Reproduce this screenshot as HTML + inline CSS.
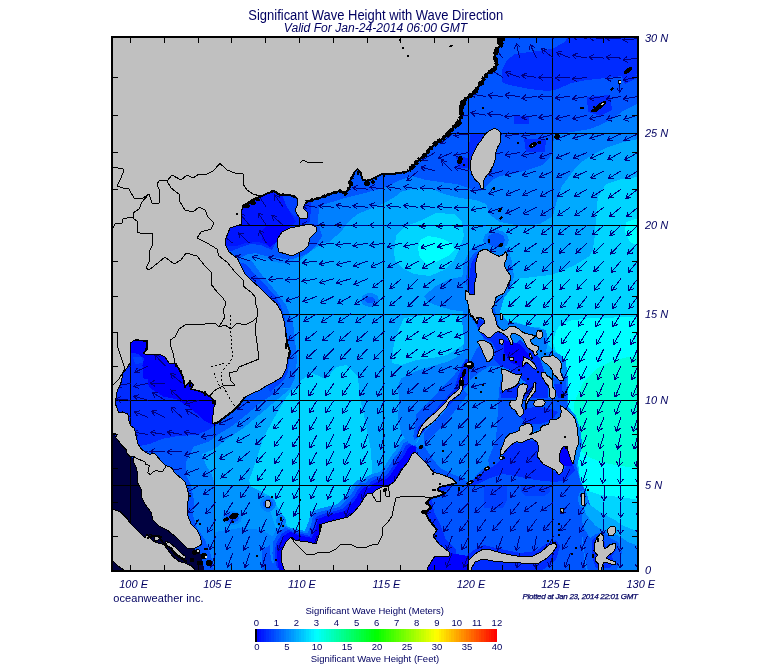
<!DOCTYPE html>
<html lang="en"><head><meta charset="utf-8"><title>Significant Wave Height with Wave Direction</title>
<style>
html,body{margin:0;padding:0;background:#fff;}
body{width:775px;height:665px;overflow:hidden;position:relative;font-family:"Liberation Sans",Arial,sans-serif;}
body>svg{position:absolute;left:0;top:0;display:block;}
text{font-family:"Liberation Sans",Arial,sans-serif;fill:#000060;}
.it{font-style:italic;}
</style></head><body>
<svg width="775" height="665" viewBox="0 0 775 665">
<rect x="0" y="0" width="775" height="665" fill="#fff"/>
<svg x="113" y="38" width="524" height="532" viewBox="113 38 524 532" overflow="hidden">
<g shape-rendering="crispEdges"><rect x="113" y="38" width="524" height="532" fill="#00aaff"/><path d="M639.0,177.0L621.0,179.0L606.0,184.0L598.0,197.0L596.0,215.0L595.0,235.0L592.8,250.0L589.7,256.0L574.0,265.5L552.5,274.8L533.0,277.0L520.0,278.5L507.0,287.0L505.0,292.0L498.0,300.0L497.0,312.0L503.0,320.0L515.0,322.0L530.0,327.0L540.0,327.0L546.0,335.0L548.0,345.0L556.0,352.0L563.0,358.0L566.0,375.0L566.0,390.0L567.0,405.0L575.0,415.0L580.0,430.0L582.0,445.0L578.0,462.0L580.0,480.0L583.0,495.0L590.0,505.0L600.0,512.0L615.0,520.0L628.0,530.0L639.0,540.0Z" fill="#00d5ff"/><path d="M394.0,252.0L396.0,236.0L404.0,227.0L422.0,220.0L436.0,213.0L454.0,214.0L462.0,222.0L464.0,236.0L460.0,248.0L454.0,260.0L444.0,270.0L430.0,276.0L414.0,274.0L402.0,268.0L395.0,260.0Z" fill="#00d5ff"/><path d="M404.0,318.0L425.0,315.0L445.0,315.0L466.0,316.0L468.0,330.0L467.0,342.0L457.0,349.0L447.0,355.0L432.0,358.0L416.0,360.0L401.0,365.0L392.0,363.0L393.0,349.0L396.0,336.0Z" fill="#00d5ff"/><path d="M300.0,381.0L312.0,373.0L326.0,379.0L336.0,367.0L346.0,365.0L358.0,377.0L360.0,399.0L364.0,415.0L368.0,436.0L371.0,450.0L372.0,470.0L371.0,491.0L361.0,501.0L345.0,512.0L332.0,514.0L320.0,520.0L309.0,527.0L301.0,535.0L294.0,535.0L288.0,527.0L281.0,512.0L270.0,496.0L258.0,490.0L250.6,486.7L249.0,480.5L256.8,458.8L263.0,438.7L273.8,418.6L284.7,400.0L291.0,391.0Z" fill="#00d5ff"/><path d="M418.0,248.0L420.0,240.0L428.0,236.0L440.0,238.0L452.0,243.0L455.0,250.0L448.0,256.0L436.0,262.0L426.0,264.0L420.0,258.0Z" fill="#00ffff"/><path d="M626.0,222.0L639.0,218.0L639.0,246.0L630.0,242.0L625.0,232.0Z" fill="#00ffff"/><path d="M571.0,320.5L590.0,318.0L639.0,317.0L639.0,500.0L620.0,497.0L600.0,495.0L585.0,490.0L580.0,478.0L578.0,462.0L582.0,445.0L580.0,430.0L575.0,415.0L567.0,405.0L566.0,390.0L566.0,375.0L563.0,358.0L556.0,352.0L553.0,342.0L556.0,331.0L561.0,324.0Z" fill="#00ffff"/><path d="M574.0,436.0L574.0,403.0L584.0,381.0L596.0,369.0L612.0,361.0L628.0,357.0L639.0,356.0L639.0,468.0L620.0,466.0L600.0,462.0L585.0,455.0L578.0,446.0Z" fill="#00ffd5"/><path d="M639.0,139.0L624.0,142.0L608.0,147.0L592.0,155.0L580.0,163.0L574.0,170.0L562.0,186.0L557.0,200.0L553.0,216.0L540.0,224.0L520.0,226.0L500.0,222.0L490.0,215.0L486.0,204.0L476.0,200.0L460.0,198.0L444.0,194.0L430.0,188.0L416.0,188.0L400.0,192.0L396.0,196.0L383.5,203.6L370.6,208.8L357.6,214.0L349.0,221.0L343.0,229.0L336.0,236.0L329.0,242.0L322.0,243.0L317.2,247.0L308.0,253.0L298.6,262.4L286.2,265.5L273.8,264.0L261.5,260.9L253.7,262.4L250.6,271.7L240.0,272.0L220.0,272.0L220.0,37.0L639.0,37.0Z" fill="#0080ff"/><path d="M639.0,103.0L623.0,111.0L612.0,119.0L600.0,125.0L590.0,129.0L578.0,131.0L564.0,133.0L554.0,134.0L553.0,149.0L550.0,157.0L542.0,165.0L528.0,170.0L512.0,174.0L500.0,176.0L492.0,180.0L484.0,189.0L480.0,191.0L468.0,188.0L456.0,184.0L440.0,182.0L426.0,180.0L412.0,176.0L400.0,180.0L383.0,188.0L365.0,193.0L345.0,198.0L319.0,206.0L318.0,222.0L322.0,236.0L317.0,245.0L308.0,253.0L298.6,257.8L287.8,259.3L277.0,257.8L266.0,256.2L255.3,253.0L246.0,254.7L238.2,259.3L220.0,259.0L220.0,37.0L639.0,37.0Z" fill="#0055ff"/><path d="M515.0,54.0L552.0,49.0L565.0,42.0L568.0,36.0L639.0,36.0L639.0,74.0L622.0,76.0L606.0,78.0L587.0,80.0L571.0,83.0L558.0,89.0L548.0,91.0L529.0,89.0L509.0,85.0L502.0,82.0L502.0,70.0L507.0,60.0Z" fill="#002bff"/><path d="M220.0,190.0L312.0,190.0L310.0,222.0L300.0,226.0L285.0,230.0L277.0,240.0L272.0,250.0L261.0,245.0L250.0,244.0L241.0,247.0L232.0,251.0L220.0,250.0Z" fill="#002bff"/><path d="M220.0,190.0L280.0,190.0L284.0,200.0L290.0,212.0L296.0,222.0L285.0,230.0L277.0,240.0L270.0,246.0L258.0,242.0L246.0,243.0L236.0,246.0L220.0,246.0Z" fill="#0015ff"/><path d="M283.0,196.0L296.0,196.0L298.0,206.0L296.0,218.0L290.0,212.0L285.0,203.0Z" fill="#0040ff"/><path d="M268.0,225.0L290.0,226.0L282.0,234.0L277.0,242.0L270.0,247.0L262.0,240.0L262.0,230.0Z" fill="#0000ff"/><path d="M587.0,97.0L610.0,95.0L612.0,110.0L600.0,116.0L588.0,112.0Z" fill="#002bff"/><path d="M620.0,71.0L635.0,66.0L637.0,78.0L625.0,84.0Z" fill="#002bff"/><path d="M514.0,116.0L529.0,116.0L529.0,124.0L514.0,124.0Z" fill="#002bff"/><path d="M524.0,139.0L546.0,139.0L545.0,152.0L526.0,152.0Z" fill="#002bff"/><path d="M470.0,134.0L484.0,134.0L480.0,144.0L474.0,156.0L471.0,170.0L468.0,168.0L469.0,150.0Z" fill="#002bff"/><path d="M456.0,156.0L468.0,158.0L468.0,168.0L458.0,168.0Z" fill="#002bff"/><path d="M299.9,330.0L298.6,345.5L297.3,368.8L289.5,389.5L274.0,402.4L258.5,415.4L243.0,428.3L227.4,438.7L214.5,449.0L201.6,454.2L206.0,465.0L212.0,475.0L215.0,485.0L216.0,500.0L216.0,520.0L218.0,540.0L222.0,570.0L111.0,570.0L111.0,330.0Z" fill="#0080ff"/><path d="M293.0,330.0L292.0,356.0L289.5,376.6L276.6,392.0L261.0,402.4L245.5,415.4L232.6,425.7L219.7,433.5L209.3,441.3L193.8,446.4L186.0,462.0L186.0,475.0L191.0,485.0L194.0,500.0L193.0,515.0L197.0,528.0L205.0,540.0L211.0,555.0L214.0,570.0L111.0,570.0L111.0,330.0Z" fill="#0055ff"/><path d="M214.5,425.7L209.3,429.6L196.4,434.8L178.3,436.0L162.7,438.7L149.8,443.8L138.0,446.4L111.0,446.0L111.0,330.0L220.0,330.0L220.0,420.0Z" fill="#002bff"/><path d="M128.0,338.0L150.0,338.0L150.0,352.0L158.0,353.0L168.0,358.0L176.0,364.0L184.0,378.0L192.0,386.0L204.0,392.0L216.0,398.0L216.0,426.0L205.0,421.0L196.0,413.0L186.0,405.0L176.0,399.0L163.4,396.5L153.3,390.3L148.7,386.4L148.0,379.4L142.5,378.0L142.5,365.5L144.0,358.5L138.0,354.0L128.0,352.0Z" fill="#0000ff"/><path d="M133.0,357.0L142.0,357.0L143.0,363.0L135.0,364.0Z" fill="#0040ff"/><path d="M111.0,432.0L116.0,436.0L120.0,444.0L128.0,452.0L134.0,460.0L138.0,475.0L142.0,490.0L148.0,505.0L155.0,518.0L165.0,528.0L180.0,540.0L192.0,548.0L200.0,552.0L205.0,572.0L111.0,572.0Z" fill="#000040"/><path d="M215.0,486.0L250.0,486.0L262.0,492.0L268.0,500.0L270.0,510.0L275.0,525.0L280.0,540.0L285.0,548.0L280.0,572.0L215.0,572.0Z" fill="#0095ff"/><path d="M215.0,532.0L240.0,528.0L262.0,530.0L272.0,536.0L280.0,544.0L283.0,556.0L283.0,572.0L215.0,572.0Z" fill="#0080ff"/><path d="M262.0,550.0L272.0,544.0L280.0,542.0L284.0,548.0L284.0,572.0L262.0,572.0Z" fill="#0055ff"/><path d="M271.9,562.9L269.9,550.9L270.9,538.9L276.9,528.9L282.9,524.9L290.9,527.9L304.9,530.9L308.9,520.9L310.9,511.9L318.9,508.9L330.9,505.9L337.9,503.9L342.9,498.9L348.9,491.9L352.9,484.9L357.9,479.9L362.9,480.9L365.9,476.9L371.9,473.9L377.9,472.9L382.9,468.9L386.9,462.9L391.9,454.9L396.9,448.9L400.9,440.9L405.9,437.9L420.0,445.0L420.0,572.0Z" fill="#0080ff"/><path d="M274.4,565.4L272.4,553.4L273.4,541.4L279.4,531.4L285.4,527.4L293.4,530.4L307.4,533.4L311.4,523.4L313.4,514.4L321.4,511.4L333.4,508.4L340.4,506.4L345.4,501.4L351.4,494.4L355.4,487.4L360.4,482.4L365.4,483.4L368.4,479.4L374.4,476.4L380.4,475.4L385.4,471.4L389.4,465.4L394.4,457.4L399.4,451.4L403.4,443.4L408.4,440.4L420.0,448.0L420.0,572.0Z" fill="#0055ff"/><path d="M276.8,567.8L274.8,555.8L275.8,543.8L281.8,533.8L287.8,529.8L295.8,532.8L309.8,535.8L313.8,525.8L315.8,516.8L323.8,513.8L335.8,510.8L342.8,508.8L347.8,503.8L353.8,496.8L357.8,489.8L362.8,484.8L367.8,485.8L370.8,481.8L376.8,478.8L382.8,477.8L387.8,473.8L391.8,467.8L396.8,459.8L401.8,453.8L405.8,445.8L410.8,442.8L420.0,450.0L420.0,572.0Z" fill="#002bff"/><path d="M278.9,569.9L276.9,557.9L277.9,545.9L283.9,535.9L289.9,531.9L297.9,534.9L311.9,537.9L315.9,527.9L317.9,518.9L325.9,515.9L337.9,512.9L344.9,510.9L349.9,505.9L355.9,498.9L359.9,491.9L364.9,486.9L369.9,487.9L372.9,483.9L378.9,480.9L384.9,479.9L389.9,475.9L393.9,469.9L398.9,461.9L403.9,455.9L407.9,447.9L412.9,444.9L420.0,452.0L420.0,572.0Z" fill="#0000ff"/><path d="M466.0,300.0L462.0,280.0L464.0,262.0L470.0,250.0L480.0,244.0L495.0,246.0L508.0,248.0L512.0,262.0L514.0,276.0L510.0,290.0L504.0,298.0L500.0,312.0L508.0,322.0L520.0,324.0L536.0,328.0L546.0,330.0L548.0,342.0L546.0,352.0L560.0,354.0L566.0,362.0L568.0,380.0L568.0,395.0L568.0,408.0L576.0,416.0L580.0,428.0L582.0,442.0L580.0,455.0L577.0,466.0L580.0,480.0L586.0,492.0L590.0,505.0L598.0,514.0L596.0,530.0L592.0,548.0L594.0,572.0L420.0,572.0L420.0,452.0L416.0,446.0L422.0,432.0L432.0,420.0L444.0,404.0L450.0,395.0L458.0,388.0L460.0,378.0L462.0,360.0L464.0,340.0L462.0,320.0Z" fill="#0080ff"/><path d="M424.0,296.0L436.0,286.0L450.0,279.0L466.0,276.0L467.0,290.0L466.0,312.0L452.0,310.0L438.0,306.0L428.0,302.0Z" fill="#0080ff"/><path d="M468.0,300.0L466.0,280.0L468.0,262.0L474.0,253.0L480.0,250.0L478.0,262.0L476.0,280.0L474.0,296.0L468.0,305.0L470.0,316.0L480.0,330.0L484.0,340.0L476.0,350.0L470.0,362.0L466.0,372.0L464.0,384.0L470.0,380.0L480.0,372.0L490.0,366.0L500.0,366.0L500.0,330.0L494.0,306.0L494.0,300.0Z" fill="#0055ff"/><path d="M470.0,300.0L469.0,282.0L471.0,264.0L476.0,255.0L479.0,256.0L477.0,270.0L476.0,284.0L473.0,296.0L470.0,306.0Z" fill="#002bff"/><path d="M424.0,432.0L434.0,422.0L444.0,412.0L452.0,402.0L458.0,394.0L463.0,390.0L468.0,394.0L462.0,402.0L454.0,412.0L446.0,422.0L438.0,430.0L430.0,438.0L424.0,444.0Z" fill="#0055ff"/><path d="M416.0,448.0L424.0,446.0L432.0,458.0L440.0,468.0L452.0,474.0L462.0,478.0L470.0,484.0L456.0,488.0L440.0,480.0L425.0,468.0L416.0,456.0Z" fill="#0055ff"/><path d="M500.0,380.0L520.0,384.0L519.0,418.0L509.0,432.0L503.0,446.0L500.0,458.0L490.0,466.0L488.0,460.0L492.0,450.0L496.0,440.0L497.0,425.0L498.0,410.0L499.0,395.0Z" fill="#0055ff"/><path d="M456.0,483.0L470.0,483.0L481.0,470.0L495.0,462.0L503.0,456.0L501.0,450.0L504.0,440.0L512.0,434.0L540.0,434.0L562.0,445.0L575.0,462.0L580.0,480.0L586.0,492.0L590.0,505.0L598.0,514.0L596.0,530.0L592.0,548.0L594.0,572.0L420.0,572.0L420.0,500.0L430.0,497.0Z" fill="#0055ff"/><path d="M484.0,486.0L507.0,486.0L507.0,500.0L503.0,508.0L484.0,508.0Z" fill="#0040ff"/><path d="M521.0,486.0L550.0,486.0L550.0,492.0L544.0,496.0L526.0,496.0L521.0,492.0Z" fill="#0040ff"/><path d="M509.0,440.0L519.0,444.0L527.0,440.0L537.0,442.0L539.0,452.0L545.0,464.0L555.0,472.0L563.0,472.0L566.0,466.0L572.0,462.0L575.0,470.0L565.0,480.0L555.0,482.0L535.0,480.0L515.0,476.0L503.0,474.0L490.0,478.0L478.0,484.0L470.0,486.0L475.0,478.0L487.0,470.0L495.0,465.0L501.0,460.0L505.0,450.0Z" fill="#002bff"/><path d="M560.0,445.0L568.0,445.0L572.0,456.0L572.0,466.0L562.0,466.0L558.0,456.0Z" fill="#0000ff"/><path d="M420.0,483.0L456.0,483.0L446.0,490.0L436.0,494.0L432.0,500.0L434.0,512.0L440.0,524.0L446.0,540.0L456.0,550.0L456.0,558.0L440.0,560.0L432.0,572.0L420.0,572.0Z" fill="#002bff"/><path d="M456.0,558.0L466.0,556.0L474.0,550.0L484.0,545.0L500.0,549.0L520.0,553.0L536.0,551.0L546.0,544.0L556.0,540.0L560.0,546.0L556.0,560.0L540.0,572.0L456.0,572.0Z" fill="#002bff"/><path d="M428.0,556.0L450.0,553.0L468.0,556.0L468.0,572.0L428.0,572.0Z" fill="#0000ff"/><path d="M476.0,318.0L486.0,322.0L492.0,336.0L498.0,332.0L506.0,336.0L512.0,346.0L520.0,340.0L530.0,350.0L540.0,358.0L544.0,370.0L548.0,385.0L548.0,398.0L540.0,400.0L530.0,396.0L528.0,384.0L520.0,378.0L510.0,370.0L500.0,366.0L494.0,360.0L496.0,350.0L492.0,342.0L484.0,338.0L478.0,330.0Z" fill="#002bff"/><path d="M500.0,392.0L520.0,384.0L536.0,380.0L545.0,384.0L548.0,400.0L556.0,404.0L560.0,412.0L548.0,422.0L530.0,422.0L518.0,418.0L508.0,410.0L502.0,400.0Z" fill="#002bff"/><path d="M504.0,340.0L520.0,344.0L530.0,356.0L524.0,368.0L510.0,362.0L504.0,352.0Z" fill="#0000ff"/><path d="M583.0,499.0L592.6,507.7L602.2,516.0L612.0,521.5L623.0,525.6L639.0,532.0L639.0,572.0L588.0,572.0L586.0,520.0Z" fill="#00aaff"/><path d="M581.5,507.7L588.4,517.3L595.3,525.6L602.2,529.8L610.0,531.0L617.5,535.3L628.5,542.2L639.0,546.0L639.0,572.0L586.0,572.0L582.0,540.0Z" fill="#0080ff"/><path d="M580.0,515.0L584.0,528.0L590.0,538.0L596.0,534.0L604.0,532.0L610.0,538.0L618.0,542.0L622.0,552.0L620.0,562.0L616.0,572.0L588.0,572.0L584.0,550.0Z" fill="#0055ff"/><path d="M592.0,540.0L598.0,536.0L604.0,540.0L606.0,548.0L612.0,546.0L616.0,550.0L612.0,556.0L614.0,562.0L610.0,568.0L596.0,568.0L592.0,556.0Z" fill="#002bff"/><path d="M401.0,378.7L416.5,371.0L432.0,366.3L447.4,361.7L456.7,357.0L463.0,352.4L468.3,350.8L470.0,380.0L462.0,392.0L450.0,404.0L440.0,414.0L430.0,424.0L420.0,436.0L414.0,446.0L408.7,443.0L401.0,432.9L397.9,417.4L399.4,402.0L397.9,386.5Z" fill="#0080ff"/><path d="M416.5,414.3L432.0,398.8L442.8,386.5L453.6,375.6L461.4,366.3L466.0,358.6L470.0,366.0L468.0,384.0L460.0,394.0L450.0,404.0L440.0,414.0L430.0,424.0L420.0,436.0L414.0,440.0L413.4,436.0L415.0,426.7Z" fill="#0055ff"/><path d="M418.0,428.0L428.0,417.0L438.0,407.0L447.0,397.0L455.0,388.0L460.0,380.0L464.0,372.0L468.0,368.0L468.0,384.0L460.0,394.0L450.0,404.0L440.0,414.0L430.0,424.0L420.0,436.0L416.0,438.0Z" fill="#002bff"/><path d="M379.0,300.0L377.8,303.5L374.5,306.1L370.0,307.0L365.5,306.1L362.2,303.5L361.0,300.0L362.2,296.5L365.5,293.9L370.0,293.0L374.5,293.9L377.8,296.5Z" fill="#0080ff"/><path d="M375.0,300.0L374.3,301.8L372.5,303.0L370.0,303.5L367.5,303.0L365.7,301.8L365.0,300.0L365.7,298.2L367.5,297.0L370.0,296.5L372.5,297.0L374.3,298.2Z" fill="#0055ff"/><path d="M276.0,504.0L274.9,508.0L272.0,510.9L268.0,512.0L264.0,510.9L261.1,508.0L260.0,504.0L261.1,500.0L264.0,497.1L268.0,496.0L272.0,497.1L274.9,500.0Z" fill="#0080ff"/><path d="M273.0,504.0L272.3,506.5L270.5,508.3L268.0,509.0L265.5,508.3L263.7,506.5L263.0,504.0L263.7,501.5L265.5,499.7L268.0,499.0L270.5,499.7L272.3,501.5Z" fill="#0055ff"/><path d="M242.0,518.0L240.7,521.5L237.0,524.1L232.0,525.0L227.0,524.1L223.3,521.5L222.0,518.0L223.3,514.5L227.0,511.9L232.0,511.0L237.0,511.9L240.7,514.5Z" fill="#0080ff"/><path d="M239.0,518.0L238.1,520.2L235.5,521.9L232.0,522.5L228.5,521.9L225.9,520.2L225.0,518.0L225.9,515.8L228.5,514.1L232.0,513.5L235.5,514.1L238.1,515.8Z" fill="#0055ff"/><path d="M286.0,521.0L285.3,524.0L283.5,526.2L281.0,527.0L278.5,526.2L276.7,524.0L276.0,521.0L276.7,518.0L278.5,515.8L281.0,515.0L283.5,515.8L285.3,518.0Z" fill="#0080ff"/><path d="M262.0,556.0L261.3,558.0L259.5,559.5L257.0,560.0L254.5,559.5L252.7,558.0L252.0,556.0L252.7,554.0L254.5,552.5L257.0,552.0L259.5,552.5L261.3,554.0Z" fill="#0080ff"/><path d="M509.0,240.0L507.3,245.0L502.5,248.7L496.0,250.0L489.5,248.7L484.7,245.0L483.0,240.0L484.7,235.0L489.5,231.3L496.0,230.0L502.5,231.3L507.3,235.0Z" fill="#0080ff"/><path d="M505.0,240.0L503.8,243.5L500.5,246.1L496.0,247.0L491.5,246.1L488.2,243.5L487.0,240.0L488.2,236.5L491.5,233.9L496.0,233.0L500.5,233.9L503.8,236.5Z" fill="#0055ff"/><path d="M588.0,499.0L587.3,503.5L585.5,506.8L583.0,508.0L580.5,506.8L578.7,503.5L578.0,499.0L578.7,494.5L580.5,491.2L583.0,490.0L585.5,491.2L587.3,494.5Z" fill="#0080ff"/><path d="M565.0,512.0L564.5,514.5L563.0,516.3L561.0,517.0L559.0,516.3L557.5,514.5L557.0,512.0L557.5,509.5L559.0,507.7L561.0,507.0L563.0,507.7L564.5,509.5Z" fill="#0055ff"/><path d="M498.0,398.0L562.0,398.0L562.0,420.0L548.0,426.0L532.0,432.0L515.0,436.0L503.0,446.0L497.0,440.0Z" fill="#0055ff"/><path d="M520.0,410.0L534.0,407.0L548.0,408.0L558.0,412.0L552.0,420.0L540.0,424.0L528.0,424.0L521.0,418.0Z" fill="#002bff"/><path d="M553.0,378.0L566.0,378.0L567.0,395.0L567.0,412.0L560.0,405.0L556.0,398.0Z" fill="#0055ff"/><path d="M554.0,384.0L562.0,384.0L563.0,398.0L558.0,398.0Z" fill="#002bff"/><path d="M455.0,386.0L459.0,374.0L463.0,364.0L467.0,358.0L470.0,364.0L468.0,380.0L462.0,390.0Z" fill="#002bff"/><path d="M458.0,382.0L461.0,374.0L464.0,368.0L466.0,372.0L464.0,382.0L461.0,387.0Z" fill="#0000ff"/><path d="M299.5,256.0L299.5,386.0L292.0,390.0L280.0,388.0L270.0,392.0L236.0,272.0L240.0,262.0L262.0,258.0L275.0,262.0L288.0,264.0Z" fill="#0095ff"/><path d="M238.0,259.0L251.0,260.0L262.0,275.0L276.0,291.5L286.0,305.0L293.0,322.0L295.0,340.0L297.0,360.0L295.0,378.0L290.0,388.0L280.0,388.0L270.0,392.0L236.0,300.0Z" fill="#006aff"/><path d="M238.0,262.0L246.0,264.0L256.0,276.0L268.0,288.0L276.0,297.0L281.0,306.0L285.0,318.0L287.0,332.0L288.0,345.0L291.0,352.0L289.0,362.0L288.0,372.0L284.0,380.0L270.0,392.0L236.0,300.0Z" fill="#0040ff"/></g>
<g shape-rendering="crispEdges" fill="#000"><rect x="130" y="38" width="1" height="532"/><rect x="214" y="38" width="1" height="532"/><rect x="299" y="38" width="1" height="532"/><rect x="383" y="38" width="1" height="532"/><rect x="468" y="38" width="1" height="532"/><rect x="552" y="38" width="1" height="532"/><rect x="113" y="133" width="524" height="1"/><rect x="113" y="225" width="524" height="1"/><rect x="113" y="314" width="524" height="1"/><rect x="113" y="400" width="524" height="1"/><rect x="113" y="485" width="524" height="1"/></g>
<path d="M131.4,417.5L116.9,413.6M122.1,411.9L116.9,413.6L120.6,417.7M131.4,400.3L116.5,399.0M121.3,396.4L116.5,399.0L120.8,402.4M131.4,383.2L116.6,385.8M120.7,382.0L116.6,385.8L121.7,387.9M131.4,365.9L116.9,369.8M120.6,365.7L116.9,369.8L122.1,371.5M131.4,348.7L116.8,352.2M120.6,348.2L116.8,352.2L122.0,354.0M148.3,451.5L133.3,451.5M137.9,448.5L133.3,451.5L137.9,454.5M148.3,434.5L133.5,432.2M138.5,429.9L133.5,432.2L137.6,435.9M148.3,417.5L134.4,411.8M139.8,410.8L134.4,411.8L137.5,416.3M148.3,400.3L133.9,396.2M139.1,394.6L133.9,396.2L137.5,400.4M148.3,383.2L133.7,386.5M137.5,382.6L133.7,386.5L138.8,388.4M148.3,365.9L134.7,372.3M137.6,367.6L134.7,372.3L140.1,373.0M165.2,451.5L150.2,451.5M154.8,448.5L150.2,451.5L154.8,454.5M165.2,434.5L150.3,432.2M155.4,429.9L150.3,432.2L154.4,435.9M165.2,417.5L151.6,411.1M157.0,410.3L151.6,411.1L154.5,415.8M165.2,400.3L152.4,392.4M157.9,392.3L152.4,392.4L154.8,397.4M165.2,383.2L150.2,383.2M154.8,380.2L150.2,383.2L154.8,386.2M165.2,365.9L154.9,355.0M160.3,356.3L154.9,355.0L155.9,360.4M182.0,468.5L167.3,471.1M171.3,467.4L167.3,471.1L172.3,473.3M182.0,451.5L167.0,452.1M171.6,448.9L167.0,452.1L171.8,454.9M182.0,434.5L167.3,431.9M172.3,429.8L167.3,431.9L171.3,435.7M182.0,417.5L171.1,407.2M176.5,408.2L171.1,407.2L172.4,412.6M182.0,400.3L171.1,390.1M176.5,391.1L171.1,390.1L172.4,395.4M182.0,383.2L170.5,373.5M176.0,374.2L170.5,373.5L172.2,378.8M198.9,519.3L190.3,531.6M190.5,526.1L190.3,531.6L195.4,529.6M198.9,502.4L188.3,513.0M189.5,507.7L188.3,513.0L193.7,511.9M198.9,485.5L185.9,493.0M188.4,488.1L185.9,493.0L191.4,493.3M198.9,468.5L185.0,474.2M188.2,469.6L185.0,474.2L190.4,475.2M198.9,451.5L184.4,455.4M188.1,451.3L184.4,455.4L189.7,457.1M198.9,434.5L184.1,431.9M189.2,429.8L184.1,431.9L188.2,435.7M198.9,417.5L186.1,409.7M191.6,409.5L186.1,409.7L188.5,414.7M198.9,400.3L184.5,404.5M188.1,400.3L184.5,404.5L189.8,406.1M215.8,553.1L210.7,567.2M209.4,561.9L210.7,567.2L215.1,563.9M215.8,536.2L209.5,549.8M208.7,544.4L209.5,549.8L214.1,546.9M215.8,519.3L207.9,532.1M207.8,526.6L207.9,532.1L212.9,529.7M215.8,502.4L205.8,513.6M206.6,508.2L205.8,513.6L211.1,512.2M215.8,485.5L203.7,494.3M205.6,489.2L203.7,494.3L209.1,494.0M215.8,468.5L202.8,476.0M205.3,471.1L202.8,476.0L208.3,476.3M215.8,451.5L202.7,458.8M205.3,454.0L202.7,458.8L208.2,459.2M215.8,434.5L201.0,437.1M205.1,433.4L201.0,437.1L206.1,439.3M232.7,553.1L227.4,567.1M226.2,561.8L227.4,567.1L231.8,563.9M232.7,536.2L226.4,549.8M225.6,544.4L226.4,549.8L231.0,546.9M232.7,519.3L225.6,532.6M225.2,527.1L225.6,532.6L230.4,529.9M232.7,502.4L224.7,515.1M224.6,509.6L224.7,515.1L229.7,512.8M232.7,485.5L223.4,497.3M223.9,491.8L223.4,497.3L228.6,495.5M232.7,468.5L221.0,478.0M222.7,472.8L221.0,478.0L226.5,477.4M232.7,451.5L219.7,459.0M222.2,454.1L219.7,459.0L225.2,459.3M232.7,434.5L219.0,440.6M222.0,436.0L219.0,440.6L224.4,441.5M232.7,417.5L219.2,424.0M222.0,419.3L219.2,424.0L224.7,424.7M232.7,243.2L221.2,233.6M226.7,234.3L221.2,233.6L222.8,238.8M249.6,553.1L244.9,567.4M243.5,562.1L244.9,567.4L249.2,563.9M249.6,536.2L243.9,550.1M242.9,544.7L243.9,550.1L248.4,547.0M249.6,519.3L242.9,532.8M242.3,527.3L242.9,532.8L247.7,530.0M249.6,502.4L241.9,515.3M241.7,509.8L241.9,515.3L246.8,512.9M249.6,485.5L240.7,497.6M241.0,492.1L240.7,497.6L245.8,495.6M249.6,468.5L239.9,480.0M240.6,474.6L239.9,480.0L245.2,478.4M249.6,451.5L238.0,461.1M239.6,455.8L238.0,461.1L243.4,460.5M249.6,434.5L236.6,442.0M239.1,437.1L236.6,442.0L242.1,442.3M249.6,417.5L237.4,426.2M239.4,421.1L237.4,426.2L242.9,425.9M249.6,400.3L237.6,409.4M239.5,404.2L237.6,409.4L243.1,409.0M249.6,261.0L235.5,255.9M240.8,254.7L235.5,255.9L238.8,260.3M249.6,243.2L238.6,233.0M244.0,234.0L238.6,233.0L239.9,238.3M249.6,225.3L239.9,213.8M245.2,215.4L239.9,213.8L240.6,219.3M249.6,207.3L240.4,195.4M245.6,197.3L240.4,195.4L240.8,200.9M266.4,553.1L261.8,567.4M260.4,562.1L261.8,567.4L266.0,563.9M266.4,536.2L260.8,550.1M259.8,544.7L260.8,550.1L265.3,547.0M266.4,519.3L260.1,532.9M259.3,527.5L260.1,532.9L264.8,530.0M266.4,485.5L258.9,498.5M258.7,493.0L258.9,498.5L263.8,496.0M266.4,468.5L257.5,480.6M257.9,475.1L257.5,480.6L262.7,478.7M266.4,451.5L256.4,462.7M257.3,457.3L256.4,462.7L261.7,461.3M266.4,434.5L255.5,444.8M256.8,439.5L255.5,444.8L260.9,443.8M266.4,417.5L255.3,427.5M256.7,422.2L255.3,427.5L260.7,426.6M266.4,400.3L255.8,410.9M257.0,405.5L255.8,410.9L261.2,409.8M266.4,278.7L251.5,277.9M256.2,275.2L251.5,277.9L255.9,281.2M266.4,261.0L252.2,256.4M257.5,255.0L252.2,256.4L255.6,260.7M266.4,243.2L259.2,230.1M264.0,232.7L259.2,230.1L258.8,235.6M266.4,225.3L258.1,212.9M263.1,215.0L258.1,212.9L258.1,218.4M266.4,207.3L258.1,194.9M263.1,197.0L258.1,194.9L258.1,200.4M283.3,536.2L278.2,550.3M277.0,545.0L278.2,550.3L282.6,547.0M283.3,519.3L277.4,533.1M276.5,527.7L277.4,533.1L282.0,530.1M283.3,502.4L276.6,515.8M276.0,510.4L276.6,515.8L281.3,513.1M283.3,485.5L275.9,498.5M275.6,493.0L275.9,498.5L280.8,496.0M283.3,468.5L275.4,481.3M275.3,475.8L275.4,481.3L280.4,478.9M283.3,451.5L274.5,463.7M274.8,458.2L274.5,463.7L279.6,461.7M283.3,434.5L274.1,446.3M274.6,440.9L274.1,446.3L279.3,444.5M283.3,417.5L273.7,428.9M274.3,423.5L273.7,428.9L278.9,427.3M283.3,400.3L273.1,411.3M274.0,405.9L273.1,411.3L278.4,410.0M283.3,383.2L273.8,394.7M274.4,389.3L273.8,394.7L279.0,393.1M283.3,313.9L269.5,319.6M272.6,315.1L269.5,319.6L274.9,320.6M283.3,296.3L268.6,299.5M272.5,295.6L268.6,299.5L273.8,301.4M283.3,278.7L268.3,279.3M272.8,276.1L268.3,279.3L273.0,282.1M283.3,261.0L268.8,257.2M274.1,255.5L268.8,257.2L272.5,261.2M283.3,225.3L272.0,215.5M277.4,216.3L272.0,215.5L273.5,220.8M283.3,207.3L274.7,195.0M279.8,197.1L274.7,195.0L274.9,200.5M300.2,536.2L294.9,550.2M293.7,544.9L294.9,550.2L299.3,547.0M300.2,519.3L294.6,533.2M293.5,527.8L294.6,533.2L299.1,530.1M300.2,502.4L293.9,516.0M293.1,510.6L293.9,516.0L298.5,513.1M300.2,485.5L293.4,498.9M292.8,493.4L293.4,498.9L298.2,496.1M300.2,468.5L292.8,481.6M292.4,476.1L292.8,481.6L297.6,479.0M300.2,451.5L292.3,464.3M292.2,458.8L292.3,464.3L297.2,461.9M300.2,434.5L292.0,447.1M292.0,441.6L292.0,447.1L297.1,444.9M300.2,417.5L292.0,430.0M292.0,424.5L292.0,430.0L297.1,427.8M300.2,400.3L291.6,412.6M291.8,407.1L291.6,412.6L296.7,410.6M300.2,383.2L291.4,395.3M291.7,389.8L291.4,395.3L296.5,393.3M300.2,365.9L290.0,376.9M290.9,371.5L290.0,376.9L295.3,375.6M300.2,348.7L289.1,358.7M290.5,353.4L289.1,358.7L294.5,357.8M300.2,331.3L288.4,340.5M290.2,335.3L288.4,340.5L293.9,340.0M300.2,313.9L287.2,321.4M289.7,316.5L287.2,321.4L292.7,321.6M300.2,296.3L285.9,301.0M289.4,296.7L285.9,301.0L291.2,302.4M300.2,278.7L285.3,280.2M289.6,276.8L285.3,280.2L290.2,282.7M300.2,261.0L285.2,262.1M289.6,258.8L285.2,262.1L290.0,264.7M317.1,536.2L311.7,550.2M310.6,544.9L311.7,550.2L316.2,547.0M317.1,519.3L311.9,533.4M310.7,528.1L311.9,533.4L316.3,530.1M317.1,502.4L311.1,516.2M310.2,510.8L311.1,516.2L315.7,513.1M317.1,485.5L310.4,498.9M309.8,493.5L310.4,498.9L315.1,496.1M317.1,468.5L310.3,481.9M309.7,476.4L310.3,481.9L315.0,479.1M317.1,451.5L309.8,464.7M309.4,459.2L309.8,464.7L314.7,462.1M317.1,434.5L310.0,447.8M309.6,442.3L310.0,447.8L314.8,445.1M317.1,417.5L309.4,430.3M309.2,424.8L309.4,430.3L314.3,427.9M317.1,400.3L309.1,413.1M309.0,407.6L309.1,413.1L314.1,410.7M317.1,383.2L308.9,395.7M308.9,390.2L308.9,395.7L313.9,393.5M317.1,365.9L307.5,377.5M308.2,372.1L307.5,377.5L312.8,375.9M317.1,348.7L306.2,359.0M307.5,353.7L306.2,359.0L311.7,358.0M317.1,331.3L305.3,340.6M307.1,335.4L305.3,340.6L310.8,340.1M317.1,313.9L304.0,321.2M306.6,316.4L304.0,321.2L309.5,321.6M317.1,296.3L303.0,301.5M306.3,297.1L303.0,301.5L308.3,302.7M317.1,278.7L302.3,281.3M306.3,277.6L302.3,281.3L307.4,283.5M317.1,261.0L302.2,262.9M306.4,259.3L302.2,262.9L307.1,265.3M317.1,243.2L302.1,244.3M306.5,241.0L302.1,244.3L306.9,246.9M317.1,225.3L302.1,224.0M307.0,221.4L302.1,224.0L306.5,227.4M317.1,207.3L302.3,205.0M307.3,202.8L302.3,205.0L306.4,208.7M334.0,519.3L328.4,533.3M327.3,527.9L328.4,533.3L332.9,530.1M334.0,502.4L328.1,516.2M327.1,510.8L328.1,516.2L332.7,513.2M334.0,485.5L327.4,499.0M326.7,493.5L327.4,499.0L332.1,496.1M334.0,468.5L327.1,481.9M326.6,476.4L327.1,481.9L331.9,479.1M334.0,451.5L326.9,464.8M326.4,459.3L326.9,464.8L331.7,462.1M334.0,434.5L326.9,447.8M326.4,442.3L326.9,447.8L331.7,445.1M334.0,417.5L326.2,430.3M326.0,424.8L326.2,430.3L331.2,427.9M334.0,400.3L325.6,412.8M325.7,407.3L325.6,412.8L330.6,410.6M334.0,383.2L325.4,395.5M325.5,390.0L325.4,395.5L330.5,393.4M334.0,365.9L324.3,377.4M325.0,372.0L324.3,377.4L329.6,375.8M334.0,348.7L323.4,359.3M324.5,353.9L323.4,359.3L328.7,358.1M334.0,331.3L322.5,340.9M324.1,335.7L322.5,340.9L327.9,340.3M334.0,313.9L321.5,322.2M323.7,317.2L321.5,322.2L327.0,322.1M334.0,296.3L320.5,302.9M323.3,298.2L320.5,302.9L325.9,303.6M334.0,278.7L319.5,282.7M323.2,278.6L319.5,282.7L324.7,284.3M334.0,261.0L319.3,264.2M323.2,260.3L319.3,264.2L324.4,266.1M334.0,243.2L319.0,244.7M323.3,241.3L319.0,244.7L323.9,247.3M334.0,225.3L319.0,224.8M323.7,222.0L319.0,224.8L323.5,227.9M334.0,207.3L319.0,205.7M324.0,203.2L319.0,205.7L323.3,209.2M350.8,502.4L345.7,516.5M344.5,511.2L345.7,516.5L350.1,513.2M350.8,485.5L344.7,499.2M343.9,493.8L344.7,499.2L349.3,496.2M350.8,468.5L344.0,481.9M343.5,476.4L344.0,481.9L348.8,479.1M350.8,451.5L344.1,464.9M343.5,459.5L344.1,464.9L348.9,462.2M350.8,434.5L344.7,448.2M343.9,442.8L344.7,448.2L349.4,445.2M350.8,417.5L343.8,430.7M343.3,425.2L343.8,430.7L348.6,428.0M350.8,400.3L342.9,413.1M342.8,407.6L342.9,413.1L347.9,410.7M350.8,383.2L342.2,395.5M342.4,390.0L342.2,395.5L347.3,393.4M350.8,365.9L341.6,377.7M342.1,372.3L341.6,377.7L346.8,376.0M350.8,348.7L340.4,359.5M341.5,354.1L340.4,359.5L345.8,358.2M350.8,331.3L339.5,341.1M341.0,335.8L339.5,341.1L344.9,340.3M350.8,313.9L338.4,322.3M340.6,317.2L338.4,322.3L343.9,322.2M350.8,296.3L337.8,303.8M340.3,298.9L337.8,303.8L343.3,304.1M350.8,278.7L336.5,283.1M340.0,278.9L336.5,283.1L341.8,284.6M350.8,261.0L336.3,264.8M340.0,260.8L336.3,264.8L341.5,266.6M350.8,243.2L335.9,244.8M340.2,241.3L335.9,244.8L340.8,247.3M350.8,225.3L335.8,224.8M340.6,222.0L335.8,224.8L340.4,228.0M350.8,207.3L336.0,205.2M341.0,202.9L336.0,205.2L340.1,208.8M350.8,189.2L335.9,187.4M340.9,185.0L335.9,187.4L340.2,190.9M367.7,485.5L362.1,499.4M361.1,494.0L362.1,499.4L366.6,496.2M367.7,468.5L361.2,482.1M360.5,476.6L361.2,482.1L365.9,479.2M367.7,451.5L360.7,464.8M360.2,459.3L360.7,464.8L365.5,462.1M367.7,434.5L362.3,448.5M361.2,443.1L362.3,448.5L366.8,445.3M367.7,417.5L361.6,431.2M360.8,425.7L361.6,431.2L366.2,428.2M367.7,400.3L360.4,413.5M360.1,408.0L360.4,413.5L365.3,410.9M367.7,383.2L359.6,395.7M359.6,390.2L359.6,395.7L364.6,393.5M367.7,365.9L358.5,377.8M359.0,372.3L358.5,377.8L363.7,376.0M367.7,348.7L357.5,359.6M358.4,354.2L357.5,359.6L362.8,358.3M367.7,331.3L356.6,341.3M358.0,336.0L356.6,341.3L362.0,340.5M367.7,313.9L355.6,322.7M357.6,317.5L355.6,322.7L361.1,322.4M367.7,296.3L355.0,304.3M357.3,299.3L355.0,304.3L360.5,304.4M367.7,278.7L353.9,284.6M357.0,280.0L353.9,284.6L359.3,285.6M367.7,261.0L353.6,266.2M356.9,261.8L353.6,266.2L359.0,267.4M367.7,243.2L352.9,245.8M357.0,242.1L352.9,245.8L358.0,248.0M367.7,225.3L352.7,225.4M357.3,222.4L352.7,225.4L357.3,228.4M367.7,207.3L352.8,205.6M357.7,203.2L352.8,205.6L357.1,209.1M367.7,189.2L352.8,187.7M357.7,185.2L352.8,187.7L357.1,191.1M384.6,485.5L378.4,499.2M377.6,493.7L378.4,499.2L383.1,496.2M384.6,468.5L378.3,482.1M377.5,476.7L378.3,482.1L382.9,479.2M384.6,451.5L378.3,465.1M377.5,459.7L378.3,465.1L382.9,462.2M384.6,434.5L380.7,449.0M379.0,443.8L380.7,449.0L384.8,445.3M384.6,417.5L379.2,431.5M378.1,426.1L379.2,431.5L383.7,428.2M384.6,400.3L378.0,413.8M377.4,408.4L378.0,413.8L382.7,411.0M384.6,383.2L377.1,396.2M376.8,390.7L377.1,396.2L382.0,393.7M384.6,365.9L375.2,377.6M375.8,372.2L375.2,377.6L380.4,375.9M384.6,348.7L373.9,359.2M375.1,353.8L373.9,359.2L379.3,358.1M384.6,331.3L373.2,341.1M374.8,335.8L373.2,341.1L378.7,340.3M384.6,313.9L372.7,323.0M374.6,317.8L372.7,323.0L378.2,322.6M384.6,296.3L373.1,306.0M374.7,300.7L373.1,306.0L378.6,305.3M384.6,278.7L372.6,287.8M374.5,282.6L372.6,287.8L378.1,287.4M384.6,261.0L370.8,267.0M373.9,262.4L370.8,267.0L376.2,267.9M384.6,243.2L369.7,245.3M373.9,241.7L369.7,245.3L374.7,247.6M384.6,225.3L369.6,225.3M374.2,222.3L369.6,225.3L374.2,228.3M384.6,207.3L369.8,204.7M374.9,202.6L369.8,204.7L373.9,208.5M384.6,189.2L369.7,187.1M374.7,184.8L369.7,187.1L373.9,190.7M401.5,468.5L394.4,481.8M394.0,476.3L394.4,481.8L399.2,479.1M401.5,451.5L394.0,464.5M393.7,459.0L394.0,464.5L398.9,462.0M401.5,434.5L394.4,447.8M394.0,442.3L394.4,447.8L399.2,445.1M401.5,417.5L393.5,430.2M393.4,424.7L393.5,430.2L398.5,427.8M401.5,400.3L392.9,412.6M393.1,407.1L392.9,412.6L398.0,410.6M401.5,383.2L392.2,395.0M392.7,389.5L392.2,395.0L397.4,393.2M401.5,365.9L390.9,376.5M392.0,371.2L390.9,376.5L396.3,375.4M401.5,348.7L390.3,358.7M391.8,353.4L390.3,358.7L395.8,357.8M401.5,331.3L390.0,340.9M391.6,335.7L390.0,340.9L395.4,340.3M401.5,313.9L389.5,322.9M391.4,317.7L389.5,322.9L395.0,322.5M401.5,296.3L389.9,305.9M391.6,300.6L389.9,305.9L395.4,305.3M401.5,278.7L390.0,288.4M391.6,283.1L390.0,288.4L395.4,287.7M401.5,261.0L387.9,267.4M390.8,262.7L387.9,267.4L393.3,268.1M401.5,243.2L387.0,247.0M390.7,242.9L387.0,247.0L392.2,248.7M401.5,225.3L386.5,225.9M391.0,222.7L386.5,225.9L391.2,228.7M401.5,207.3L386.6,205.6M391.5,203.2L386.6,205.6L390.8,209.1M401.5,189.2L386.7,186.6M391.8,184.4L386.7,186.6L390.7,190.3M418.4,451.5L410.2,464.1M410.2,458.6L410.2,464.1L415.2,461.9M418.4,417.5L409.6,429.6M409.9,424.1L409.6,429.6L414.7,427.6M418.4,400.3L408.4,411.5M409.2,406.1L408.4,411.5L413.7,410.1M418.4,383.2L407.5,393.6M408.8,388.2L407.5,393.6L412.9,392.5M418.4,365.9L406.7,375.3M408.4,370.1L406.7,375.3L412.1,374.8M418.4,348.7L406.3,357.5M408.2,352.4L406.3,357.5L411.7,357.2M418.4,331.3L406.1,340.0M408.1,334.8L406.1,340.0L411.6,339.7M418.4,313.9L406.5,323.0M408.3,317.8L406.5,323.0L412.0,322.6M418.4,296.3L407.8,306.9M408.9,301.6L407.8,306.9L413.1,305.8M418.4,278.7L407.8,289.3M408.9,284.0L407.8,289.3L413.1,288.2M418.4,261.0L405.4,268.5M407.9,263.6L405.4,268.5L410.9,268.8M418.4,243.2L403.7,246.4M407.6,242.5L403.7,246.4L408.8,248.3M418.4,225.3L403.4,225.9M407.9,222.7L403.4,225.9L408.1,228.7M418.4,207.3L403.5,205.2M408.5,202.9L403.5,205.2L407.7,208.8M418.4,189.2L403.6,186.6M408.6,184.4L403.6,186.6L407.6,190.3M418.4,170.9L406.9,180.5M408.5,175.3L406.9,180.5L412.3,179.9M435.2,536.2L428.9,549.8M428.1,544.4L428.9,549.8L433.6,546.9M435.2,519.3L426.9,531.8M427.0,526.3L426.9,531.8L431.9,529.6M435.2,502.4L425.9,514.2M426.4,508.7L425.9,514.2L431.1,512.4M435.2,468.5L426.0,480.4M426.5,474.9L426.0,480.4L431.2,478.6M435.2,451.5L425.7,463.1M426.3,457.7L425.7,463.1L430.9,461.5M435.2,434.5L425.2,445.7M426.1,440.2L425.2,445.7L430.5,444.2M435.2,400.3L423.7,410.0M425.4,404.7L423.7,410.0L429.2,409.3M435.2,383.2L423.0,391.8M425.0,386.7L423.0,391.8L428.4,391.6M435.2,365.9L422.2,373.4M424.7,368.5L422.2,373.4L427.7,373.7M435.2,348.7L422.2,356.2M424.7,351.3L422.2,356.2L427.7,356.4M435.2,331.3L422.2,338.8M424.7,333.9L422.2,338.8L427.7,339.1M435.2,313.9L423.0,322.5M425.0,317.4L423.0,322.5L428.4,322.3M435.2,296.3L423.5,305.7M425.3,300.5L423.5,305.7L429.0,305.2M435.2,278.7L423.3,287.8M425.1,282.6L423.3,287.8L428.8,287.4M435.2,261.0L422.2,268.5M424.7,263.6L422.2,268.5L427.7,268.8M435.2,243.2L421.0,247.9M424.4,243.6L421.0,247.9L426.3,249.3M435.2,225.3L420.3,226.5M424.6,223.2L420.3,226.5L425.1,229.1M435.2,207.3L420.3,206.4M425.0,203.7L420.3,206.4L424.7,209.7M435.2,189.2L420.3,187.9M425.2,185.3L420.3,187.9L424.6,191.2M435.2,170.9L420.8,167.0M426.0,165.3L420.8,167.0L424.4,171.1M435.2,152.5L422.2,160.0M424.7,155.1L422.2,160.0L427.7,160.3M452.1,553.1L446.4,567.0M445.4,561.6L446.4,567.0L450.9,563.9M452.1,536.2L447.0,550.3M445.8,545.0L447.0,550.3L451.4,547.0M452.1,519.3L443.5,531.6M443.7,526.1L443.5,531.6L448.6,529.6M452.1,502.4L442.5,513.9M443.1,508.5L442.5,513.9L447.7,512.3M452.1,485.5L442.7,497.2M443.3,491.7L442.7,497.2L447.9,495.5M452.1,468.5L443.5,480.8M443.7,475.3L443.5,480.8L448.6,478.8M452.1,451.5L442.5,463.0M443.1,457.6L442.5,463.0L447.7,461.4M452.1,434.5L442.1,445.7M442.9,440.2L442.1,445.7L447.4,444.2M452.1,417.5L441.5,428.1M442.7,422.7L441.5,428.1L446.9,426.9M452.1,383.2L439.1,390.5M441.6,385.7L439.1,390.5L444.5,390.9M452.1,365.9L438.3,371.8M441.4,367.3L438.3,371.8L443.7,372.8M452.1,348.7L438.0,353.8M441.3,349.4L438.0,353.8L443.4,355.0M452.1,331.3L438.0,336.4M441.3,332.0L438.0,336.4L443.4,337.7M452.1,313.9L439.1,321.4M441.6,316.5L439.1,321.4L444.6,321.6M452.1,296.3L440.6,306.0M442.2,300.7L440.6,306.0L446.1,305.3M452.1,278.7L440.6,288.4M442.2,283.1L440.6,288.4L446.1,287.7M452.1,261.0L439.1,268.5M441.6,263.6L439.1,268.5L444.6,268.8M452.1,243.2L437.6,247.1M441.3,243.0L437.6,247.1L442.9,248.8M452.1,225.3L437.2,226.4M441.5,223.1L437.2,226.4L442.0,229.0M452.1,207.3L437.1,206.8M441.8,203.9L437.1,206.8L441.6,209.9M452.1,189.2L437.2,187.9M442.0,185.3L437.2,187.9L441.5,191.2M452.1,170.9L441.3,160.5M446.7,161.5L441.3,160.5L442.6,165.8M452.1,152.5L438.4,158.6M441.4,154.0L438.4,158.6L443.8,159.4M452.1,133.9L440.6,143.6M442.2,138.3L440.6,143.6L446.1,142.9M469.0,553.1L463.9,567.2M462.6,561.9L463.9,567.2L468.3,563.9M469.0,536.2L462.0,549.5M461.5,544.0L462.0,549.5L466.8,546.8M469.0,519.3L459.8,531.2M460.2,525.7L459.8,531.2L465.0,529.4M469.0,502.4L458.4,513.0M459.5,507.7L458.4,513.0L463.8,511.9M469.0,485.5L457.7,495.4M459.2,490.1L457.7,495.4L463.2,494.6M469.0,468.5L459.6,480.2M460.2,474.8L459.6,480.2L464.8,478.5M469.0,451.5L459.8,463.4M460.2,457.9L459.8,463.4L465.0,461.6M469.0,434.5L459.4,446.0M460.0,440.6L459.4,446.0L464.6,444.4M469.0,417.5L458.4,428.1M459.5,422.7L458.4,428.1L463.8,426.9M469.0,400.3L457.5,410.0M459.1,404.7L457.5,410.0L463.0,409.3M469.0,383.2L454.9,388.3M458.2,383.9L454.9,388.3L460.3,389.5M469.0,365.9L454.2,368.5M458.3,364.8L454.2,368.5L459.3,370.7M469.0,348.7L454.8,353.4M458.2,349.1L454.8,353.4L460.1,354.8M469.0,331.3L455.2,337.3M458.3,332.7L455.2,337.3L460.7,338.2M469.0,313.9L456.1,321.5M458.5,316.5L456.1,321.5L461.6,321.7M469.0,278.7L457.0,287.7M458.9,282.5L457.0,287.7L462.5,287.3M469.0,261.0L455.8,268.2M458.4,263.4L455.8,268.2L461.3,268.6M469.0,243.2L454.6,247.5M458.2,243.3L454.6,247.5L459.9,249.1M469.0,225.3L454.1,227.1M458.3,223.6L454.1,227.1L459.0,229.5M469.0,207.3L454.0,208.0M458.5,204.8L454.0,208.0L458.8,210.8M469.0,189.2L454.0,189.2M458.6,186.2L454.0,189.2L458.6,192.2M469.0,170.9L454.4,167.4M459.6,165.6L454.4,167.4L458.2,171.4M469.0,152.5L454.3,155.4M458.2,151.6L454.3,155.4L459.4,157.5M469.0,133.9L454.1,135.5M458.4,132.0L454.1,135.5L459.0,138.0M469.0,115.2L454.0,115.8M458.5,112.6L454.0,115.8L458.7,118.6M485.9,536.2L477.5,548.7M477.6,543.2L477.5,548.7L482.6,546.5M485.9,519.3L477.1,531.5M477.4,526.0L477.1,531.5L482.2,529.5M485.9,502.4L474.9,512.7M476.2,507.3L474.9,512.7L480.3,511.7M485.9,485.5L471.9,490.9M475.1,486.4L471.9,490.9L477.3,492.0M485.9,468.5L477.3,480.8M477.5,475.3L477.3,480.8L482.4,478.8M485.9,451.5L476.6,463.4M477.1,457.9L476.6,463.4L481.8,461.6M485.9,434.5L475.8,445.7M476.7,440.2L475.8,445.7L481.2,444.2M485.9,417.5L475.3,428.1M476.4,422.7L475.3,428.1L480.7,426.9M485.9,400.3L472.9,407.8M475.4,402.9L472.9,407.8L478.4,408.1M485.9,383.2L471.4,387.1M475.1,383.0L471.4,387.1L476.6,388.8M485.9,365.9L471.8,371.1M475.1,366.7L471.8,371.1L477.1,372.3M485.9,243.2L472.1,249.1M475.1,244.5L472.1,249.1L477.5,250.1M485.9,225.3L471.2,228.6M475.1,224.7L471.2,228.6L476.4,230.5M485.9,207.3L471.1,209.9M475.1,206.2L471.1,209.9L476.2,212.1M485.9,189.2L471.0,190.7M475.2,187.2L471.0,190.7L475.8,193.2M485.9,115.2L471.1,112.6M476.2,110.5L471.1,112.6L475.1,116.4M485.9,96.4L471.1,94.1M476.1,91.8L471.1,94.1L475.2,97.7M502.8,536.2L497.4,550.2M496.2,544.9L497.4,550.2L501.8,547.0M502.8,519.3L492.7,530.5M493.6,525.1L492.7,530.5L498.0,529.1M502.8,502.4L490.9,511.7M492.7,506.5L490.9,511.7L496.4,511.2M502.8,485.5L490.8,494.5M492.7,489.4L490.8,494.5L496.3,494.1M502.8,468.5L496.9,482.3M495.9,476.9L496.9,482.3L501.5,479.3M502.8,434.5L492.2,445.1M493.3,439.7L492.2,445.1L497.5,444.0M502.8,417.5L491.3,427.1M492.9,421.8L491.3,427.1L496.7,426.4M502.8,400.3L490.2,408.6M492.4,403.5L490.2,408.6L495.7,408.5M502.8,365.9L488.8,371.4M492.0,366.9L488.8,371.4L494.2,372.5M502.8,348.7L489.1,354.9M492.1,350.3L489.1,354.9L494.6,355.7M502.8,296.3L491.5,306.3M493.0,301.0L491.5,306.3L497.0,305.5M502.8,243.2L490.2,251.4M492.4,246.4L490.2,251.4L495.7,251.4M502.8,225.3L489.4,232.1M492.1,227.3L489.4,232.1L494.8,232.7M502.8,207.3L488.6,212.1M492.0,207.8L488.6,212.1L493.9,213.5M502.8,189.2L488.5,193.9M492.0,189.6L488.5,193.9L493.8,195.3M502.8,170.9L488.3,174.8M492.0,170.7L488.3,174.8L493.5,176.5M502.8,152.5L488.0,155.4M492.0,151.6L488.0,155.4L493.1,157.4M502.8,133.9L487.8,135.5M492.1,132.0L487.8,135.5L492.7,138.0M502.8,115.2L487.8,113.9M492.7,111.3L487.8,113.9L492.1,117.3M502.8,96.4L487.8,95.1M492.7,92.5L487.8,95.1L492.2,98.4M502.8,77.3L490.0,69.4M495.5,69.3L490.0,69.4L492.4,74.4M502.8,58.1L493.8,46.1M498.9,48.0L493.8,46.1L494.1,51.6M519.6,553.1L517.0,567.9M514.9,562.8L517.0,567.9L520.8,563.9M519.6,536.2L516.3,550.8M514.4,545.7L516.3,550.8L520.2,547.0M519.6,519.3L510.4,531.2M510.9,525.7L510.4,531.2L515.6,529.4M519.6,502.4L510.4,514.2M510.9,508.8L510.4,514.2L515.6,512.5M519.6,485.5L510.6,497.5M511.0,492.0L510.6,497.5L515.8,495.6M519.6,468.5L511.5,481.1M511.5,475.6L511.5,481.1L516.5,478.9M519.6,451.5L510.5,463.5M511.0,458.0L510.5,463.5L515.7,461.6M519.6,383.2L506.9,391.0M509.2,386.1L506.9,391.0L512.4,391.2M519.6,365.9L507.0,374.0M509.3,369.0L507.0,374.0L512.5,374.1M519.6,348.7L507.7,357.7M509.6,352.5L507.7,357.7L513.2,357.3M519.6,313.9L508.7,324.1M510.0,318.7L508.7,324.1L514.1,323.1M519.6,296.3L508.7,306.6M510.0,301.2L508.7,306.6L514.1,305.6M519.6,278.7L508.1,288.4M509.8,283.1L508.1,288.4L513.6,287.7M519.6,261.0L507.7,270.1M509.5,264.9L507.7,270.1L513.1,269.7M519.6,243.2L507.4,251.8M509.4,246.7L507.4,251.8L512.8,251.6M519.6,225.3L506.6,232.8M509.1,227.9L506.6,232.8L512.1,233.1M519.6,207.3L506.0,213.6M509.0,209.0L506.0,213.6L511.5,214.4M519.6,189.2L505.8,195.0M508.9,190.5L505.8,195.0L511.2,196.0M519.6,170.9L505.2,175.0M508.8,170.9L505.2,175.0L510.5,176.6M519.6,152.5L504.9,155.1M508.9,151.3L504.9,155.1L509.9,157.2M519.6,133.9L504.8,136.0M508.9,132.4L504.8,136.0L509.8,138.3M519.6,115.2L504.7,116.8M509.0,113.3L504.7,116.8L509.6,119.3M519.6,96.4L504.7,95.0M509.6,92.4L504.7,95.0L509.0,98.4M519.6,77.3L505.5,72.2M510.9,71.0L505.5,72.2L508.9,76.6M519.6,58.1L516.5,43.5M520.4,47.3L516.5,43.5L514.5,48.6M519.6,38.7L513.2,25.2M517.9,28.1L513.2,25.2L512.5,30.6M536.5,553.1L535.5,568.1M532.8,563.3L535.5,568.1L538.8,563.7M536.5,536.2L533.9,551.0M531.8,545.9L533.9,551.0L537.7,547.0M536.5,519.3L527.7,531.5M528.0,526.0L527.7,531.5L532.8,529.5M536.5,502.4L524.4,511.2M526.4,506.1L524.4,511.2L529.9,511.0M536.5,485.5L522.4,490.6M525.7,486.2L522.4,490.6L527.8,491.9M536.5,468.5L525.1,478.3M526.7,473.0L525.1,478.3L530.6,477.6M536.5,451.5L526.6,462.8M527.4,457.3L526.6,462.8L531.9,461.3M536.5,417.5L522.7,423.2M525.8,418.7L522.7,423.2L528.1,424.2M536.5,383.2L525.8,393.7M527.0,388.3L525.8,393.7L531.2,392.6M536.5,313.9L526.6,325.1M527.4,319.6L526.6,325.1L531.9,323.6M536.5,296.3L525.7,306.7M526.9,301.4L525.7,306.7L531.1,305.7M536.5,278.7L525.1,288.5M526.7,283.2L525.1,288.5L530.6,287.8M536.5,261.0L524.6,270.2M526.5,265.0L524.6,270.2L530.1,269.7M536.5,243.2L524.2,251.8M526.3,246.7L524.2,251.8L529.7,251.6M536.5,225.3L523.6,232.9M526.1,228.0L523.6,232.9L529.1,233.2M536.5,207.3L523.1,213.9M525.9,209.2L523.1,213.9L528.5,214.6M536.5,189.2L522.8,195.1M525.8,190.5L522.8,195.1L528.2,196.0M536.5,170.9L522.3,175.6M525.7,171.3L522.3,175.6L527.6,177.0M536.5,152.5L521.8,155.4M525.7,151.6L521.8,155.4L526.9,157.5M536.5,133.9L521.7,136.3M525.8,132.6L521.7,136.3L526.7,138.6M536.5,115.2L521.7,117.8M525.8,114.1L521.7,117.8L526.8,120.0M536.5,96.4L521.7,98.5M525.8,94.8L521.7,98.5L526.7,100.8M536.5,77.3L521.7,75.3M526.7,72.9L521.7,75.3L525.8,78.9M536.5,58.1L530.2,44.5M534.8,47.5L530.2,44.5L529.4,50.0M536.5,38.7L527.7,26.6M532.9,28.6L527.7,26.6L528.0,32.1M553.4,553.1L549.3,567.5M547.7,562.3L549.3,567.5L553.4,563.9M553.4,536.2L546.6,549.6M546.0,544.1L546.6,549.6L551.3,546.8M553.4,519.3L543.6,530.7M544.3,525.2L543.6,530.7L548.8,529.1M553.4,502.4L541.1,511.0M543.2,505.9L541.1,511.0L546.6,510.8M553.4,485.5L539.3,490.6M542.6,486.2L539.3,490.6L544.7,491.9M553.4,417.5L544.4,429.4M544.8,423.9L544.4,429.4L549.5,427.5M553.4,400.3L544.8,412.6M545.0,407.1L544.8,412.6L549.9,410.6M553.4,348.7L545.6,361.5M545.4,356.0L545.6,361.5L550.6,359.1M553.4,331.3L544.5,343.4M544.8,337.9L544.5,343.4L549.7,341.4M553.4,313.9L543.8,325.3M544.4,319.9L543.8,325.3L549.0,323.7M553.4,296.3L543.6,307.7M544.3,302.2L543.6,307.7L548.9,306.2M553.4,278.7L542.9,289.5M544.0,284.1L542.9,289.5L548.3,288.3M553.4,261.0L542.4,271.3M543.8,265.9L542.4,271.3L547.9,270.3M553.4,243.2L542.0,253.0M543.6,247.7L542.0,253.0L547.5,252.3M553.4,225.3L541.4,234.3M543.3,229.2L541.4,234.3L546.9,234.0M553.4,207.3L540.8,215.5M543.1,210.4L540.8,215.5L546.3,215.5M553.4,189.2L540.3,196.4M542.9,191.6L540.3,196.4L545.8,196.8M553.4,170.9L539.7,177.1M542.7,172.5L539.7,177.1L545.2,177.9M553.4,152.5L539.4,157.8M542.6,153.4L539.4,157.8L544.8,159.0M553.4,133.9L539.1,138.4M542.6,134.2L539.1,138.4L544.4,139.9M553.4,115.2L538.6,117.8M542.7,114.0L538.6,117.8L543.7,119.9M553.4,96.4L538.4,97.1M542.9,93.9L538.4,97.1L543.2,99.9M553.4,77.3L538.4,77.6M543.0,74.5L538.4,77.6L543.1,80.5M553.4,58.1L541.7,48.7M547.2,49.3L541.7,48.7L543.4,53.9M553.4,38.7L541.2,30.0M546.7,30.2L541.2,30.0L543.2,35.1M570.3,553.1L565.1,567.2M563.9,561.9L565.1,567.2L569.5,563.9M570.3,536.2L562.8,549.2M562.5,543.7L562.8,549.2L567.7,546.7M570.3,519.3L560.6,530.8M561.3,525.4L560.6,530.8L565.9,529.2M570.3,502.4L560.6,513.9M561.3,508.5L560.6,513.9L565.9,512.3M570.3,485.5L560.6,496.9M561.3,491.5L560.6,496.9L565.9,495.4M570.3,468.5L563.6,482.0M563.0,476.5L563.6,482.0L568.3,479.2M570.3,400.3L563.8,413.8M563.1,408.4L563.8,413.8L568.5,411.0M570.3,383.2L563.4,396.5M562.9,391.0L563.4,396.5L568.2,393.8M570.3,365.9L563.2,379.2M562.8,373.7L563.2,379.2L568.0,376.5M570.3,348.7L562.8,361.6M562.5,356.2L562.8,361.6L567.7,359.1M570.3,331.3L561.9,343.7M562.0,338.2L561.9,343.7L567.0,341.6M570.3,313.9L561.2,325.8M561.6,320.3L561.2,325.8L566.4,323.9M570.3,296.3L560.6,307.8M561.3,302.4L560.6,307.8L565.9,306.2M570.3,278.7L559.9,289.5M560.9,284.1L559.9,289.5L565.2,288.3M570.3,261.0L559.5,271.5M560.7,266.1L559.5,271.5L564.9,270.4M570.3,243.2L559.1,253.3M560.6,248.0L559.1,253.3L564.6,252.4M570.3,225.3L558.5,234.6M560.3,229.4L558.5,234.6L563.9,234.1M570.3,207.3L557.8,215.7M560.0,210.6L557.8,215.7L563.3,215.6M570.3,189.2L557.3,196.7M559.8,191.8L557.3,196.7L562.8,197.0M570.3,170.9L556.7,177.2M559.6,172.6L556.7,177.2L562.1,178.0M570.3,152.5L556.4,158.1M559.5,153.6L556.4,158.1L561.8,159.2M570.3,133.9L556.2,139.1M559.5,134.7L556.2,139.1L561.5,140.3M570.3,115.2L555.7,118.9M559.5,114.9L555.7,118.9L560.9,120.7M570.3,96.4L555.4,97.9M559.6,94.5L555.4,97.9L560.3,100.4M570.3,77.3L555.3,78.1M559.8,74.9L555.3,78.1L560.1,80.9M570.3,58.1L556.5,52.3M561.9,51.3L556.5,52.3L559.5,56.8M570.3,38.7L556.3,33.3M561.7,32.2L556.3,33.3L559.5,37.7M587.2,553.1L582.8,567.5M581.3,562.2L582.8,567.5L587.0,563.9M587.2,536.2L581.5,550.1M580.5,544.7L581.5,550.1L586.0,547.0M587.2,519.3L579.7,532.3M579.4,526.8L579.7,532.3L584.6,529.8M587.2,502.4L578.6,514.7M578.7,509.2L578.6,514.7L583.7,512.7M587.2,485.5L581.5,499.4M580.5,494.0L581.5,499.4L586.0,496.2M587.2,468.5L582.5,482.8M581.1,477.5L582.5,482.8L586.8,479.3M587.2,451.5L582.0,465.6M580.8,460.3L582.0,465.6L586.4,462.3M587.2,434.5L581.3,448.3M580.3,442.9L581.3,448.3L585.9,445.3M587.2,417.5L581.1,431.2M580.2,425.7L581.1,431.2L585.7,428.2M587.2,400.3L580.8,413.9M580.1,408.5L580.8,413.9L585.5,411.0M587.2,383.2L580.6,396.7M579.9,391.2L580.6,396.7L585.3,393.8M587.2,365.9L580.4,379.3M579.8,373.9L580.4,379.3L585.1,376.6M587.2,348.7L579.9,361.8M579.5,356.3L579.9,361.8L584.7,359.2M587.2,331.3L579.1,344.0M579.1,338.5L579.1,344.0L584.1,341.7M587.2,313.9L578.6,326.1M578.7,320.6L578.6,326.1L583.7,324.1M587.2,296.3L577.9,308.1M578.4,302.6L577.9,308.1L583.1,306.3M587.2,278.7L576.9,289.6M577.9,284.2L576.9,289.6L582.2,288.3M587.2,261.0L576.4,271.5M577.6,266.1L576.4,271.5L581.8,270.4M587.2,243.2L575.9,253.2M577.4,247.9L575.9,253.2L581.4,252.4M587.2,225.3L575.3,234.5M577.1,229.3L575.3,234.5L580.8,234.1M587.2,207.3L574.7,215.7M576.9,210.6L574.7,215.7L580.2,215.6M587.2,189.2L574.2,196.6M576.7,191.7L574.2,196.6L579.6,196.9M587.2,170.9L573.6,177.3M576.5,172.6L573.6,177.3L579.1,178.1M587.2,152.5L573.2,158.1M576.4,153.6L573.2,158.1L578.6,159.1M587.2,133.9L572.9,138.5M576.4,134.2L572.9,138.5L578.2,140.0M587.2,115.2L572.6,118.9M576.4,114.8L572.6,118.9L577.8,120.7M587.2,96.4L572.4,99.0M576.4,95.2L572.4,99.0L577.5,101.1M587.2,77.3L572.3,79.2M576.5,75.6L572.3,79.2L577.2,81.6M587.2,58.1L572.4,55.3M577.5,53.2L572.4,55.3L576.4,59.1M587.2,38.7L572.4,35.8M577.6,33.8L572.4,35.8L576.4,39.7M604.0,519.3L602.7,534.3M600.1,529.4L602.7,534.3L606.1,529.9M604.0,502.4L603.5,517.4M600.7,512.7L603.5,517.4L606.7,512.9M604.0,485.5L604.0,500.5M601.0,495.9L604.0,500.5L607.0,495.9M604.0,468.5L602.7,483.5M600.1,478.6L602.7,483.5L606.1,479.1M604.0,451.5L601.4,466.3M599.3,461.3L601.4,466.3L605.2,462.3M604.0,434.5L599.5,448.8M598.1,443.5L599.5,448.8L603.8,445.3M604.0,417.5L598.2,431.3M597.2,425.9L598.2,431.3L602.8,428.2M604.0,400.3L597.8,414.0M597.0,408.5L597.8,414.0L602.5,411.0M604.0,383.2L597.6,396.7M596.9,391.3L597.6,396.7L602.3,393.8M604.0,365.9L597.7,379.5M596.9,374.1L597.7,379.5L602.4,376.6M604.0,348.7L597.2,362.0M596.7,356.5L597.2,362.0L602.0,359.3M604.0,331.3L596.5,344.3M596.3,338.8L596.5,344.3L601.4,341.8M604.0,313.9L595.9,326.5M595.9,321.0L595.9,326.5L600.9,324.2M604.0,296.3L595.2,308.4M595.5,302.9L595.2,308.4L600.3,306.5M604.0,278.7L594.3,290.2M595.0,284.7L594.3,290.2L599.6,288.6M604.0,261.0L593.7,271.9M594.7,266.5L593.7,271.9L599.0,270.6M604.0,243.2L593.1,253.5M594.4,248.2L593.1,253.5L598.5,252.5M604.0,225.3L592.5,234.9M594.1,229.7L592.5,234.9L598.0,234.3M604.0,207.3L591.9,216.2M593.9,211.0L591.9,216.2L597.4,215.9M604.0,189.2L591.4,197.2M593.7,192.2L591.4,197.2L596.9,197.3M604.0,170.9L590.8,178.0M593.5,173.2L590.8,178.0L596.3,178.5M604.0,152.5L590.3,158.6M593.3,154.0L590.3,158.6L595.8,159.4M604.0,133.9L589.8,138.5M593.2,134.2L589.8,138.5L595.1,140.0M604.0,115.2L589.4,118.7M593.2,114.7L589.4,118.7L594.6,120.6M604.0,96.4L589.2,98.7M593.3,95.1L589.2,98.7L594.3,101.0M604.0,58.1L589.1,57.1M593.9,54.4L589.1,57.1L593.5,60.4M604.0,38.7L589.1,37.4M594.0,34.8L589.1,37.4L593.4,40.8M620.9,553.1L620.0,568.1M617.3,563.3L620.0,568.1L623.3,563.7M620.9,536.2L619.9,551.2M617.2,546.4L619.9,551.2L623.2,546.8M620.9,519.3L620.3,534.3M617.5,529.6L620.3,534.3L623.5,529.8M620.9,502.4L620.7,517.4M617.8,512.8L620.7,517.4L623.8,512.9M620.9,485.5L620.8,500.5M617.9,495.9L620.8,500.5L623.9,495.9M620.9,468.5L620.0,483.5M617.3,478.7L620.0,483.5L623.3,479.1M620.9,451.5L618.8,466.4M616.5,461.4L618.8,466.4L622.4,462.3M620.9,434.5L617.4,449.1M615.6,443.9L617.4,449.1L621.4,445.3M620.9,417.5L616.3,431.7M614.9,426.4L616.3,431.7L620.5,428.3M620.9,400.3L615.6,414.4M614.5,409.0L615.6,414.4L620.1,411.1M620.9,383.2L615.1,397.0M614.1,391.6L615.1,397.0L619.7,393.9M620.9,365.9L614.7,379.6M613.9,374.2L614.7,379.6L619.3,376.6M620.9,348.7L614.3,362.1M613.6,356.6L614.3,362.1L619.0,359.3M620.9,331.3L613.7,344.4M613.3,338.9L613.7,344.4L618.5,341.8M620.9,313.9L613.0,326.6M612.9,321.1L613.0,326.6L618.0,324.3M620.9,296.3L612.2,308.5M612.4,303.0L612.2,308.5L617.3,306.5M620.9,278.7L611.7,290.5M612.1,285.1L611.7,290.5L616.9,288.8M620.9,261.0L611.2,272.4M611.9,267.0L611.2,272.4L616.5,270.9M620.9,243.2L610.6,254.1M611.6,248.7L610.6,254.1L615.9,252.8M620.9,225.3L609.9,235.5M611.3,230.2L609.9,235.5L615.3,234.6M620.9,207.3L609.4,216.9M611.0,211.6L609.4,216.9L614.8,216.2M620.9,189.2L608.8,198.0M610.8,192.9L608.8,198.0L614.3,197.7M620.9,170.9L608.2,178.9M610.5,173.9L608.2,178.9L613.7,178.9M620.9,152.5L607.8,159.7M610.4,154.9L607.8,159.7L613.3,160.1M620.9,133.9L607.2,140.0M610.2,135.4L607.2,140.0L612.6,140.9M620.9,115.2L606.6,119.5M610.1,115.3L606.6,119.5L611.8,121.1M620.9,96.4L606.2,99.2M610.2,95.4L606.2,99.2L611.3,101.3M620.9,77.3L606.0,78.6M610.3,75.2L606.0,78.6L610.8,81.2M620.9,58.1L606.0,57.1M610.8,54.4L606.0,57.1L610.3,60.4M620.9,38.7L605.9,38.3M610.6,35.4L605.9,38.3L610.4,41.4M637.8,553.1L637.8,568.1M634.8,563.5L637.8,568.1L640.8,563.5M637.8,536.2L638.3,551.2M635.2,546.7L638.3,551.2L641.2,546.5M637.8,519.3L638.8,534.3M635.5,529.9L638.8,534.3L641.5,529.5M637.8,502.4L639.4,517.3M635.9,513.1L639.4,517.3L641.9,512.4M637.8,485.5L639.4,500.4M635.9,496.1L639.4,500.4L641.9,495.5M637.8,468.5L638.3,483.5M635.2,479.0L638.3,483.5L641.2,478.8M637.8,451.5L636.5,466.5M633.9,461.6L636.5,466.5L639.9,462.2M637.8,434.5L634.2,449.1M632.4,443.9L634.2,449.1L638.2,445.3M637.8,417.5L633.2,431.7M631.7,426.4L633.2,431.7L637.4,428.3M637.8,400.3L632.7,414.4M631.4,409.1L632.7,414.4L637.1,411.1M637.8,383.2L632.2,397.1M631.1,391.7L632.2,397.1L636.7,393.9M637.8,365.9L631.9,379.8M631.0,374.3L631.9,379.8L636.5,376.7M637.8,348.7L631.5,362.2M630.7,356.8L631.5,362.2L636.1,359.3M637.8,331.3L630.8,344.5M630.3,339.1L630.8,344.5L635.6,341.9M637.8,313.9L629.9,326.6M629.8,321.1L629.9,326.6L634.8,324.3M637.8,296.3L629.0,308.5M629.3,303.0L629.0,308.5L634.1,306.5M637.8,278.7L628.6,290.6M629.0,285.1L628.6,290.6L633.8,288.8M637.8,261.0L628.2,272.5M628.8,267.1L628.2,272.5L633.4,270.9M637.8,243.2L627.6,254.2M628.5,248.8L627.6,254.2L632.9,252.9M637.8,225.3L626.8,235.6M628.2,230.2L626.8,235.6L632.2,234.6M637.8,207.3L626.3,216.9M627.9,211.7L626.3,216.9L631.8,216.3M637.8,189.2L625.8,198.2M627.7,193.0L625.8,198.2L631.3,197.8M637.8,170.9L625.1,178.8M627.4,173.9L625.1,178.8L630.6,178.9M637.8,152.5L624.8,160.0M627.3,155.1L624.8,160.0L630.3,160.3M637.8,133.9L624.2,140.3M627.1,135.6L624.2,140.3L629.7,141.0M637.8,115.2L623.5,119.6M627.0,115.4L623.5,119.6L628.7,121.1M637.8,96.4L623.1,99.2M627.0,95.4L623.1,99.2L628.2,101.3M637.8,77.3L623.0,79.9M627.1,76.2L623.0,79.9L628.1,82.1M637.8,58.1L622.9,60.0M627.1,56.4L622.9,60.0L627.9,62.4M637.8,38.7L622.8,39.8M627.2,36.5L622.8,39.8L627.6,42.5M619.6,82.7L619.6,92.2M616.6,87.6L619.6,92.2L622.6,87.6" fill="none" stroke="#000080" stroke-width="1" shape-rendering="crispEdges"/>
<g fill="#c0c0c0" stroke="#000" stroke-width="1" stroke-linejoin="round" shape-rendering="crispEdges"><path d="M111.0,36.0 L503.0,36.0 L503.0,37.0 L501.0,45.0 L495.0,49.0 L494.0,57.0 L497.0,63.0 L495.0,69.0 L489.0,72.0 L485.0,77.0 L481.0,83.0 L477.0,90.0 L471.0,95.0 L465.0,99.0 L461.0,103.0 L462.0,111.0 L461.0,119.0 L455.0,125.0 L451.0,131.0 L445.0,137.0 L437.0,141.0 L431.0,147.0 L425.0,154.0 L419.0,159.0 L415.0,163.0 L410.0,170.0 L400.0,173.0 L390.0,174.0 L381.0,174.5 L377.0,176.5 L371.0,179.6 L366.8,180.7 L362.6,179.6 L360.6,172.4 L357.5,169.0 L354.5,172.0 L352.5,177.0 L350.0,181.0 L350.5,186.0 L348.0,190.0 L346.0,194.0 L340.0,191.0 L330.0,194.0 L320.0,198.0 L312.0,200.0 L306.0,202.0 L303.0,208.0 L308.0,213.0 L307.0,218.0 L300.0,219.0 L295.0,210.0 L298.0,204.0 L297.0,198.0 L290.0,195.0 L280.0,195.0 L274.0,191.0 L266.0,194.0 L260.0,196.0 L253.0,199.0 L247.0,203.0 L243.0,206.0 L241.0,213.0 L242.0,224.0 L230.0,228.0 L226.0,238.0 L225.0,244.0 L229.0,252.0 L237.0,258.0 L241.0,266.0 L245.0,274.0 L251.0,280.0 L260.0,288.0 L266.0,294.0 L272.0,300.0 L276.0,303.0 L281.0,311.0 L284.0,321.0 L286.0,333.0 L287.0,343.0 L290.0,351.0 L288.0,359.0 L286.0,369.0 L282.0,377.0 L274.0,382.0 L266.0,386.0 L260.0,390.0 L253.0,393.0 L245.0,397.0 L239.0,405.0 L233.0,411.0 L225.0,417.0 L217.0,423.0 L212.0,423.0 L213.0,415.0 L214.0,407.0 L216.0,402.0 L213.0,399.0 L205.0,393.0 L199.0,391.0 L191.0,389.0 L193.0,385.0 L190.0,381.0 L185.0,387.0 L183.0,377.0 L179.0,369.0 L175.0,363.0 L169.0,363.0 L165.0,357.0 L159.0,354.0 L147.0,355.0 L143.0,353.0 L146.0,351.0 L147.0,341.0 L135.0,340.0 L130.0,343.0 L130.0,353.0 L130.0,363.0 L125.6,370.0 L122.5,374.0 L121.5,381.5 L118.4,388.0 L116.9,392.0 L115.8,399.5 L115.3,403.7 L117.9,410.0 L118.4,413.0 L122.5,412.0 L127.2,413.7 L128.7,416.3 L128.7,420.0 L130.3,425.3 L134.5,428.4 L136.0,435.8 L137.6,443.0 L140.8,448.4 L145.0,452.0 L149.2,454.2 L154.5,453.7 L157.6,456.8 L160.8,461.0 L166.0,465.8 L171.3,467.4 L174.5,472.6 L180.8,478.0 L185.0,482.0 L187.0,488.0 L189.0,496.0 L187.0,506.0 L188.0,516.0 L191.0,524.0 L197.0,530.0 L200.0,536.0 L202.0,544.0 L199.0,546.0 L193.0,549.0 L187.0,548.0 L181.0,542.0 L175.0,536.0 L167.0,530.0 L159.0,526.0 L153.0,520.0 L151.0,512.0 L145.0,504.0 L141.0,496.0 L141.8,490.0 L137.1,482.0 L137.6,474.7 L136.6,468.4 L133.4,462.0 L133.4,456.3 L130.3,456.8 L127.1,453.7 L126.0,449.5 L121.8,445.3 L118.7,441.0 L115.5,437.4 L117.6,434.2 L113.0,433.7 L111.0,433.7Z"/><path d="M290.0,228.0 L300.0,226.0 L310.0,224.0 L316.0,227.0 L316.0,232.0 L310.0,238.0 L308.0,246.0 L304.0,250.0 L298.0,253.0 L292.0,256.0 L286.0,254.0 L279.0,252.0 L277.0,244.0 L278.0,238.0 L282.0,232.0Z"/><path d="M494.2,128.4 L497.4,129.5 L501.0,132.6 L500.0,137.9 L500.0,143.2 L497.4,147.4 L495.8,152.6 L495.3,159.0 L493.2,165.3 L490.0,171.6 L485.8,176.8 L483.7,181.0 L483.2,188.4 L481.0,188.4 L479.5,183.2 L475.3,180.0 L472.1,174.7 L470.5,169.5 L470.5,163.2 L471.6,156.8 L474.2,151.6 L477.4,145.3 L481.6,140.0 L484.7,134.7 L489.0,131.0Z"/><path d="M478.7,252.1 L482.4,250.0 L486.6,249.5 L490.8,252.1 L495.0,254.7 L499.2,256.3 L503.4,254.7 L505.5,251.6 L507.1,254.7 L506.6,259.0 L504.5,263.2 L505.0,267.4 L507.6,271.6 L510.8,275.8 L510.3,280.0 L507.6,285.3 L505.5,290.5 L503.4,293.7 L499.2,295.3 L496.0,297.4 L495.0,301.0 L494.5,304.2 L491.8,308.4 L492.9,312.6 L495.0,316.8 L496.0,321.0 L497.1,325.3 L499.2,327.9 L503.4,330.5 L506.6,329.5 L509.2,326.8 L514.5,326.3 L518.7,329.0 L521.8,331.6 L526.0,333.7 L531.3,334.7 L535.5,335.8 L533.4,338.4 L530.3,340.0 L531.3,343.2 L534.5,345.3 L538.7,346.3 L538.7,349.5 L536.6,351.6 L537.6,354.7 L534.5,355.3 L533.4,351.6 L530.3,349.5 L527.1,347.4 L525.0,343.2 L522.9,339.0 L519.7,335.8 L515.5,333.7 L511.3,333.7 L510.3,336.8 L512.4,341.0 L512.9,344.7 L510.8,344.2 L509.2,340.0 L507.1,336.8 L504.5,334.7 L501.3,332.6 L498.2,331.6 L495.5,332.6 L492.9,335.3 L489.7,337.9 L486.6,336.8 L484.5,334.2 L480.8,332.6 L478.7,330.5 L479.7,327.4 L482.4,324.7 L485.0,322.6 L483.4,319.0 L480.3,317.4 L478.2,317.9 L477.6,323.7 L476.0,322.1 L473.4,317.4 L470.8,315.8 L469.7,311.6 L468.2,305.3 L467.1,300.0 L466.0,300.0 L465.0,294.7 L465.5,290.5 L467.6,291.6 L470.3,294.7 L474.0,294.7 L475.0,292.6 L474.0,287.4 L475.0,282.1 L476.6,275.8 L475.5,270.5 L475.5,264.2 L477.1,257.9Z"/><path d="M477.1,341.6 L481.3,340.0 L486.6,341.6 L490.8,344.2 L492.9,348.4 L493.9,353.7 L492.4,357.9 L489.7,361.0 L487.1,362.1 L485.5,357.9 L483.4,353.7 L481.3,348.4 L479.2,344.2Z"/><path d="M499.7,339.5 L503.4,340.0 L503.9,342.1 L501.8,344.7 L499.7,343.2Z"/><path d="M500.3,313.7 L502.0,314.0 L502.0,320.0 L500.5,319.5Z"/><path d="M537.6,330.5 L540.8,330.0 L542.9,333.7 L541.8,337.4 L538.7,339.0 L536.6,336.8 L536.6,332.6Z"/><path d="M541.3,357.4 L547.1,356.3 L553.4,355.8 L557.6,358.4 L560.8,362.1 L561.8,366.3 L560.3,370.5 L561.8,375.8 L563.9,380.0 L561.8,381.0 L558.7,380.0 L556.6,376.8 L553.4,374.7 L552.4,370.5 L550.3,367.4 L547.1,364.2 L543.9,362.1 L541.8,360.0Z"/><path d="M541.8,372.6 L545.0,372.1 L547.1,375.8 L550.3,377.4 L552.4,381.0 L552.9,387.4 L555.5,390.5 L556.0,395.8 L553.9,399.0 L550.8,397.9 L549.2,395.8 L549.7,390.5 L548.7,386.3 L545.5,383.2 L543.9,380.0 L541.8,376.8Z"/><path d="M523.9,356.8 L527.1,358.4 L531.3,361.0 L534.5,364.2 L536.6,367.9 L535.5,369.5 L532.4,367.4 L529.2,364.2 L526.0,362.1 L524.5,364.2 L522.9,366.3 L522.4,363.2 L523.4,360.0Z"/><path d="M529.2,353.7 L530.5,354.0 L532.4,358.5 L531.5,359.0 L529.5,356.0Z"/><path d="M509.7,357.4 L513.0,357.5 L514.0,360.0 L511.0,361.0 L509.5,359.5Z"/><path d="M503.0,354.7 L504.5,355.0 L504.5,361.0 L503.0,360.5Z"/><path d="M501.5,369.0 L505.0,369.5 L509.2,371.6 L513.4,373.7 L518.7,374.7 L521.8,373.7 L520.8,376.8 L519.2,380.0 L518.2,383.2 L515.0,386.3 L510.8,388.4 L505.5,389.5 L502.4,392.6 L501.3,386.3 L502.4,380.0 L502.0,374.0Z"/><path d="M519.2,385.3 L523.4,383.7 L527.6,385.3 L526.6,390.5 L523.9,395.8 L522.4,401.0 L521.8,406.3 L523.9,410.5 L523.4,413.7 L520.3,416.8 L517.6,414.7 L515.5,410.5 L511.8,408.4 L509.2,404.2 L510.8,401.0 L516.0,400.0 L517.6,395.8 L517.1,390.5Z"/><path d="M535.0,382.1 L536.0,386.3 L535.0,391.6 L531.8,395.8 L528.7,400.0 L526.6,404.2 L526.0,409.5 L525.0,409.5 L525.0,404.2 L526.6,399.0 L529.7,393.7 L532.9,388.4 L533.9,383.2Z"/><path d="M535.0,401.0 L539.2,399.0 L543.4,399.5 L545.5,402.6 L543.4,405.8 L539.2,406.8 L535.0,406.3 L533.4,403.7Z"/><path d="M500.5,455.0 L500.8,450.0 L503.0,445.0 L505.5,438.0 L509.7,433.7 L515.0,432.6 L519.2,430.5 L520.3,426.3 L523.4,425.3 L526.6,423.2 L530.8,424.2 L532.4,427.4 L532.9,431.6 L529.7,434.7 L535.0,432.6 L540.3,430.5 L541.3,426.3 L545.5,425.3 L548.7,424.2 L549.7,420.0 L552.9,419.0 L557.1,419.0 L560.3,416.8 L561.3,411.6 L560.3,405.3 L563.4,407.4 L567.6,410.5 L571.8,414.7 L575.0,419.0 L577.0,427.0 L578.0,436.0 L579.0,442.0 L576.0,450.0 L574.0,460.0 L573.0,464.0 L571.0,460.0 L569.0,454.0 L567.0,448.0 L564.0,446.0 L561.0,450.0 L559.0,456.0 L560.0,462.0 L564.0,466.0 L562.0,472.0 L559.0,475.0 L555.0,470.0 L551.0,468.0 L543.0,464.0 L537.0,456.0 L539.0,448.0 L537.0,442.0 L532.0,438.5 L528.0,439.5 L524.0,441.5 L520.0,443.0 L517.0,441.5 L513.0,443.5 L509.0,447.0 L506.0,450.5 L503.0,454.0Z"/><path d="M417.2,436.8 L419.0,431.0 L421.0,426.7 L427.3,419.0 L435.0,412.8 L441.2,406.6 L445.9,402.0 L449.0,397.3 L455.2,392.6 L459.0,388.8 L459.5,383.0 L460.5,377.5 L462.5,378.0 L462.0,384.0 L462.1,389.5 L460.6,393.4 L454.4,398.0 L449.0,402.0 L445.9,408.0 L441.2,412.8 L435.0,420.5 L428.8,425.2 L422.6,429.8 L419.5,436.0Z"/><path d="M284.0,572.0 L284.0,569.0 L281.0,560.0 L282.0,550.0 L286.0,542.0 L291.0,537.0 L295.0,540.0 L300.0,541.0 L308.0,542.0 L316.0,544.0 L320.0,532.0 L322.0,524.0 L328.0,522.0 L340.0,519.0 L348.0,517.0 L354.0,512.0 L360.0,505.0 L364.0,498.0 L368.0,493.0 L372.0,494.0 L376.0,490.0 L382.0,487.0 L388.0,486.0 L394.0,482.0 L398.0,476.0 L403.0,468.0 L408.0,462.0 L412.0,454.0 L415.0,452.0 L421.0,458.0 L427.0,464.0 L433.0,472.0 L443.0,475.0 L453.0,479.0 L456.0,483.0 L449.0,485.0 L439.0,487.0 L437.0,490.0 L445.0,493.0 L439.0,496.0 L431.0,498.0 L427.0,502.0 L431.0,508.0 L425.0,512.0 L429.0,520.0 L437.0,530.0 L433.0,536.0 L439.0,544.0 L449.0,552.0 L449.0,556.0 L435.0,556.0 L431.0,562.0 L427.0,569.0 L427.0,572.0Z"/><path d="M467.0,572.0 L467.0,569.0 L469.0,560.0 L475.0,554.0 L483.0,549.0 L491.0,550.0 L501.0,553.0 L511.0,555.0 L523.0,557.0 L533.0,556.0 L541.0,552.0 L549.0,545.0 L555.0,543.0 L557.0,546.0 L553.0,552.0 L547.0,558.0 L539.0,563.0 L527.0,564.0 L515.0,562.0 L503.0,562.0 L493.0,561.0 L483.0,559.0 L475.0,562.0 L471.0,569.0 L471.0,572.0Z"/><path d="M600.9,533.2 L603.2,535.5 L603.0,540.9 L603.6,546.4 L605.0,549.0 L610.5,544.3 L615.4,543.6 L616.0,547.8 L613.3,552.0 L607.8,556.0 L606.4,558.0 L610.5,560.2 L615.4,561.6 L616.0,564.4 L612.0,564.4 L606.4,562.3 L603.5,563.0 L602.2,565.8 L601.5,570.0 L598.8,570.0 L598.8,564.4 L596.0,561.6 L595.3,558.0 L597.5,555.0 L596.7,554.7 L594.0,550.5 L594.6,543.6 L596.7,538.0Z"/><path d="M607.0,529.8 L610.5,526.3 L615.4,527.0 L616.0,531.2 L613.3,535.3 L609.2,536.0Z"/><path d="M111.0,509.0 L113.3,509.5 L120.3,511.8 L126.5,518.0 L131.0,524.0 L135.8,528.8 L142.0,535.0 L145.0,538.0 L147.0,534.0 L149.0,537.0 L152.8,541.0 L157.5,542.8 L163.6,544.3 L168.3,550.5 L173.0,556.7 L179.0,561.4 L185.3,563.0 L191.5,566.0 L194.6,569.0 L195.0,572.0 L124.0,572.0 L124.0,570.0 L118.0,566.0 L113.0,561.0 L111.0,561.0Z"/><path d="M153.6,536.0 L157.0,535.0 L159.8,537.0 L158.5,540.0 L155.0,540.5Z"/><path d="M165.0,541.0 L170.0,543.0 L176.0,548.0 L181.0,553.0 L186.0,557.0 L184.0,559.0 L178.0,555.0 L172.0,550.0 L167.0,546.0Z"/><path d="M266.0,501.0 L269.0,500.0 L271.0,504.0 L269.0,508.0 L266.0,507.0 L265.0,504.0Z"/><path d="M582.0,493.0 L584.0,493.0 L585.0,500.0 L584.0,506.0 L582.0,505.0 L581.5,498.0Z"/><path d="M561.0,508.0 L563.0,508.0 L564.0,512.0 L562.0,513.0 L560.5,511.0Z"/></g><g fill="none" stroke="#000" stroke-width="1" stroke-linejoin="round" shape-rendering="crispEdges"><path d="M113.0,167.0 L123.0,169.0 L124.0,170.0 L121.0,178.0 L117.0,186.0 L123.0,188.0 L129.0,189.0 L134.0,198.0 L143.0,198.0 L149.0,194.0 L152.0,203.0 L159.0,203.0 L160.0,192.0 L157.0,184.0 L160.0,180.0 L167.0,181.0 L172.0,175.0 L181.0,180.0 L187.0,175.0 L193.0,178.0 L199.0,174.0 L207.0,174.0 L213.0,171.0 L220.0,163.5 L225.0,168.0 L227.0,170.0 L235.0,173.0 L243.0,174.0 L243.0,184.0 L247.0,190.0 L253.0,194.0 L260.0,196.0"/><path d="M167.0,181.0 L171.0,188.0 L179.0,194.0 L180.0,202.0 L185.0,210.0 L193.0,212.0 L199.0,207.0 L205.0,210.0 L208.0,217.0 L214.0,223.0 L211.0,229.0 L201.0,232.0 L197.0,238.0 L207.0,243.0 L217.0,249.0 L219.0,256.0 L227.0,262.0 L235.0,272.0 L243.0,280.0 L243.0,286.0 L251.0,292.0 L256.0,298.0 L255.0,303.0 L258.0,310.0 L257.0,317.0 L255.0,329.0 L257.0,343.0 L259.0,359.0 L249.0,363.0 L239.0,367.0 L237.0,371.0 L229.0,373.0 L231.0,381.0 L235.0,385.0 L225.0,385.0 L217.0,389.0 L214.0,391.0 L209.0,397.0"/><path d="M257.0,317.0 L253.0,321.0 L245.0,325.0 L237.0,323.0 L231.0,329.0 L225.0,325.0 L219.0,327.0 L215.0,323.0 L205.0,324.0 L195.0,324.0 L185.0,325.0 L179.0,329.0 L175.0,337.0 L170.0,340.0 L171.0,347.0 L173.0,353.0 L175.0,363.0"/><path d="M219.0,327.0 L225.0,317.0 L223.0,311.0 L226.0,303.0 L223.0,298.0 L217.0,292.0 L211.0,284.0 L211.0,272.0 L205.0,266.0 L197.0,256.0 L186.0,253.0 L181.0,260.0 L174.0,264.0 L165.0,257.0 L159.0,262.0 L149.0,270.0 L146.0,268.0 L150.0,260.0 L149.0,252.0 L153.0,244.0 L152.0,233.0 L143.0,234.0 L137.0,232.0 L138.0,222.0 L133.0,218.0 L133.0,213.0 L139.0,209.0 L142.0,202.0 L149.0,194.0"/><path d="M133.0,218.0 L131.0,217.0 L123.0,219.0 L122.0,223.0 L115.0,224.0 L113.0,228.0"/><path d="M113.0,332.0 L117.0,333.0 L117.0,345.0 L121.0,357.0 L125.0,369.0 L119.0,379.0 L113.0,385.0"/><path d="M133.4,456.3 L136.6,458.4 L141.8,460.5 L145.0,462.0 L146.0,464.7 L149.2,465.3 L148.7,470.5 L147.6,472.6 L150.3,474.7 L153.4,471.6 L156.6,470.5 L159.7,472.0 L162.9,471.6 L164.5,468.4 L166.0,466.3"/><path d="M291.0,537.0 L294.0,542.0 L300.0,548.0 L306.0,554.0 L312.0,555.0 L320.0,552.0 L330.0,552.0 L336.0,549.0 L340.0,545.0 L350.0,544.0 L356.0,547.0 L364.0,548.0 L372.0,545.0 L378.0,544.0 L382.0,536.0 L382.0,528.0 L388.0,522.0 L392.0,516.0 L394.0,506.0 L396.0,498.0 L404.0,496.0 L415.0,496.0 L425.0,497.0 L432.0,497.0"/><path d="M372.0,494.0 L376.0,501.0 L380.0,502.0 L381.0,490.0"/><path d="M384.0,488.0 L386.0,496.0 L390.0,496.0 L388.0,486.0"/><path d="M300.0,163.0 L303.0,160.0 L307.0,162.0 L312.0,163.0 L317.0,162.0 L323.0,162.0"/></g><g fill="none" stroke="#000" stroke-width="1" stroke-dasharray="2 2" shape-rendering="crispEdges"><path d="M230.0,315.0 L230.0,322.0 L230.5,329.0 L231.0,336.0 L231.0,343.0 L232.0,350.0 L232.0,357.0 L230.0,363.0 L226.0,366.0 L222.0,372.0 L221.0,380.0 L223.0,386.0 L229.0,397.0 L235.0,407.0"/><path d="M211.0,367.0 L214.0,365.5 L218.0,365.0 L222.0,364.0 L225.0,363.0"/><path d="M214.0,373.0 L217.0,381.0 L221.0,389.0"/></g><g fill="none" stroke="#000" stroke-linejoin="round" shape-rendering="crispEdges"><path d="M503.0,38.0 L501.0,45.0 L496.0,50.0 L495.0,58.0 L497.0,63.0 L494.0,70.0 L488.0,73.0 L484.0,78.0 L480.0,84.0 L476.0,91.0 L470.0,96.0 L464.0,100.0 L461.0,104.0 L462.0,112.0 L460.0,120.0 L455.0,126.0 L450.0,132.0 L444.0,138.0 L437.0,142.0 L431.0,148.0 L425.0,155.0 L419.0,160.0 L414.0,165.0 L409.0,171.0" stroke-width="2.2"/><path d="M503.0,38.0 L501.0,45.0 L496.0,50.0 L495.0,58.0 L497.0,63.0 L494.0,70.0 L488.0,73.0 L484.0,78.0 L480.0,84.0 L476.0,91.0 L470.0,96.0 L464.0,100.0 L461.0,104.0 L462.0,112.0 L460.0,120.0 L455.0,126.0 L450.0,132.0 L444.0,138.0 L437.0,142.0 L431.0,148.0 L425.0,155.0 L419.0,160.0 L414.0,165.0 L409.0,171.0" stroke-width="4.5" stroke-dasharray="3 2 4 3 2 2"/><path d="M409.0,171.0 L400.0,173.0 L390.0,174.0 L381.0,174.5 L377.0,176.5 L371.0,179.6 L366.8,180.7 L362.6,179.6 L360.6,172.4 L357.5,169.0" stroke-width="2.0"/><path d="M354.5,172.0 L352.5,177.0 L350.0,181.0 L350.5,186.0 L348.0,190.0 L345.0,194.0 L340.0,191.0 L330.0,194.0 L320.0,198.0 L312.0,200.0 L306.0,202.0" stroke-width="2.0"/><path d="M352.5,177.0 L350.0,181.0 L350.5,186.0 L348.0,190.0 L345.0,194.0 L340.0,191.0 L330.0,194.0 L320.0,198.0 L312.0,200.0 L306.0,202.0" stroke-width="3.5" stroke-dasharray="2 3 3 4"/><path d="M243.0,207.0 L248.0,204.0 L254.0,200.0 L260.0,197.0 L266.0,194.0 L274.0,191.0 L280.0,195.0 L290.0,195.0 L297.0,198.0" stroke-width="2.0"/><path d="M217.0,423.0 L225.0,417.0 L233.0,411.0 L239.0,405.0 L245.0,397.0" stroke-width="2.0"/><path d="M175.0,363.0 L179.0,369.0 L183.0,377.0 L185.0,387.0 L190.0,381.0 L193.0,385.0 L191.0,389.0 L199.0,391.0 L205.0,393.0 L213.0,399.0" stroke-width="1.6"/><path d="M437.0,490.0 L445.0,493.0 L439.0,496.0 L431.0,498.0 L427.0,502.0 L431.0,508.0 L425.0,512.0 L429.0,520.0 L437.0,530.0" stroke-width="2.0"/><path d="M147.0,538.0 L153.0,536.0 L159.0,536.0 L161.0,540.0 L165.0,545.0 L171.0,548.0 L175.0,554.0 L181.0,558.0 L187.0,562.0" stroke-width="2.0"/><path d="M135.0,340.0 L147.0,341.0 L146.0,351.0" stroke-width="1.6"/><path d="M286.0,333.0 L287.0,343.0 L290.0,351.0 L288.0,359.0" stroke-width="1.8"/><path d="M470.0,316.0 L473.0,317.0 L476.0,322.0 L478.0,324.0" stroke-width="1.8"/><path d="M453.0,479.0 L456.0,483.0 L449.0,485.0 L439.0,487.0" stroke-width="1.6"/></g><g fill="#000" shape-rendering="crispEdges"><ellipse cx="600.0" cy="106.0" rx="8.0" ry="2.4" transform="rotate(-38 600.0 106.0)"/><ellipse cx="594.5" cy="110.5" rx="4.0" ry="1.5" transform="rotate(-10 594.5 110.5)"/><ellipse cx="628.0" cy="70.5" rx="5.0" ry="2.0" transform="rotate(-40 628.0 70.5)"/><ellipse cx="619.5" cy="82.0" rx="1.5" ry="2.5"/><ellipse cx="612.0" cy="89.0" rx="2.0" ry="1.2" transform="rotate(-40 612.0 89.0)"/><ellipse cx="594.0" cy="107.0" rx="1.5" ry="1.0"/><ellipse cx="582.0" cy="108.0" rx="2.0" ry="1.0"/><ellipse cx="533.0" cy="145.0" rx="4.0" ry="2.5" transform="rotate(-25 533.0 145.0)"/><ellipse cx="539.5" cy="142.5" rx="2.0" ry="2.0"/><ellipse cx="547.5" cy="139.0" rx="0.8" ry="1.0"/><ellipse cx="557.0" cy="136.5" rx="2.5" ry="3.0" transform="rotate(30 557.0 136.5)"/><ellipse cx="547.0" cy="139.0" rx="1.0" ry="1.5"/><ellipse cx="518.0" cy="143.0" rx="1.0" ry="1.0"/><ellipse cx="460.0" cy="160.0" rx="2.5" ry="4.5" transform="rotate(10 460.0 160.0)"/><ellipse cx="464.0" cy="165.0" rx="1.5" ry="1.0"/><ellipse cx="494.0" cy="188.5" rx="1.5" ry="1.5"/><ellipse cx="483.0" cy="108.0" rx="1.0" ry="1.0"/><ellipse cx="500.0" cy="210.0" rx="1.5" ry="2.5" transform="rotate(20 500.0 210.0)"/><ellipse cx="501.0" cy="218.0" rx="2.0" ry="1.5" transform="rotate(-40 501.0 218.0)"/><ellipse cx="501.0" cy="245.0" rx="2.0" ry="2.0"/><ellipse cx="489.0" cy="241.0" rx="1.2" ry="1.8"/><ellipse cx="470.0" cy="365.0" rx="4.5" ry="4.0"/><ellipse cx="464.0" cy="373.0" rx="2.0" ry="4.0" transform="rotate(20 464.0 373.0)"/><ellipse cx="462.0" cy="383.0" rx="2.5" ry="3.0"/><ellipse cx="476.0" cy="378.0" rx="1.2" ry="1.2"/><ellipse cx="483.0" cy="385.0" rx="1.0" ry="1.0"/><ellipse cx="481.0" cy="392.0" rx="1.0" ry="1.0"/><ellipse cx="502.0" cy="458.0" rx="3.0" ry="2.0" transform="rotate(-20 502.0 458.0)"/><ellipse cx="494.0" cy="463.0" rx="1.5" ry="1.0"/><ellipse cx="487.0" cy="468.5" rx="3.5" ry="1.8" transform="rotate(-20 487.0 468.5)"/><ellipse cx="480.0" cy="475.0" rx="2.0" ry="1.2" transform="rotate(-30 480.0 475.0)"/><ellipse cx="476.0" cy="478.0" rx="1.2" ry="1.0"/><ellipse cx="470.0" cy="482.5" rx="4.0" ry="2.0" transform="rotate(-25 470.0 482.5)"/><ellipse cx="463.0" cy="486.0" rx="1.5" ry="1.0"/><ellipse cx="459.0" cy="489.0" rx="1.5" ry="2.0"/><ellipse cx="443.0" cy="451.0" rx="1.5" ry="1.5"/><ellipse cx="421.0" cy="447.0" rx="2.0" ry="2.0"/><ellipse cx="433.0" cy="474.0" rx="1.5" ry="1.5"/><ellipse cx="234.0" cy="516.0" rx="5.0" ry="3.0" transform="rotate(-25 234.0 516.0)"/><ellipse cx="226.0" cy="519.5" rx="3.0" ry="1.8" transform="rotate(-20 226.0 519.5)"/><ellipse cx="233.0" cy="522.0" rx="1.5" ry="1.5"/><ellipse cx="281.0" cy="519.0" rx="1.2" ry="2.0"/><ellipse cx="279.0" cy="524.0" rx="1.0" ry="1.0"/><ellipse cx="283.0" cy="526.0" rx="1.0" ry="1.0"/><ellipse cx="272.0" cy="497.0" rx="1.0" ry="1.5"/><ellipse cx="257.0" cy="556.0" rx="1.5" ry="1.2"/><ellipse cx="276.0" cy="560.0" rx="1.2" ry="1.2"/><ellipse cx="300.0" cy="500.0" rx="0.8" ry="0.8"/><ellipse cx="196.0" cy="552.0" rx="4.0" ry="2.5" transform="rotate(-20 196.0 552.0)"/><ellipse cx="204.0" cy="556.0" rx="3.5" ry="3.0"/><ellipse cx="209.0" cy="563.0" rx="3.0" ry="3.0"/><ellipse cx="200.0" cy="563.0" rx="3.0" ry="2.5"/><ellipse cx="192.0" cy="560.0" rx="2.5" ry="2.0"/><ellipse cx="206.0" cy="549.0" rx="2.0" ry="1.5"/><ellipse cx="160.0" cy="537.0" rx="2.0" ry="1.5"/><ellipse cx="150.0" cy="534.5" rx="1.5" ry="1.0"/><ellipse cx="367.0" cy="183.5" rx="3.5" ry="2.2"/><ellipse cx="373.0" cy="182.0" rx="2.0" ry="1.8"/><ellipse cx="358.0" cy="173.0" rx="1.5" ry="2.5"/><ellipse cx="352.0" cy="184.0" rx="1.5" ry="2.0"/><ellipse cx="362.0" cy="177.0" rx="1.2" ry="1.5"/><ellipse cx="246.0" cy="206.0" rx="4.0" ry="2.5"/><ellipse cx="253.0" cy="203.0" rx="3.0" ry="2.0"/><ellipse cx="258.0" cy="200.0" rx="2.0" ry="1.5"/><ellipse cx="237.0" cy="214.0" rx="1.0" ry="1.0"/><ellipse cx="293.0" cy="196.0" rx="2.0" ry="1.5"/><ellipse cx="283.0" cy="194.0" rx="1.5" ry="1.2"/><ellipse cx="272.0" cy="191.0" rx="1.5" ry="1.5"/><ellipse cx="499.0" cy="41.0" rx="2.5" ry="3.0"/><ellipse cx="497.0" cy="50.0" rx="2.5" ry="3.0"/><ellipse cx="496.0" cy="60.0" rx="2.0" ry="3.0"/><ellipse cx="493.0" cy="70.0" rx="3.0" ry="2.0"/><ellipse cx="486.0" cy="76.0" rx="2.5" ry="2.5"/><ellipse cx="482.0" cy="83.0" rx="2.0" ry="2.5"/><ellipse cx="476.0" cy="91.0" rx="2.5" ry="2.0"/><ellipse cx="470.0" cy="96.0" rx="2.0" ry="2.0"/><ellipse cx="463.0" cy="103.0" rx="3.0" ry="3.0"/><ellipse cx="461.0" cy="112.0" rx="2.5" ry="3.0"/><ellipse cx="458.0" cy="124.0" rx="4.0" ry="2.5" transform="rotate(-30 458.0 124.0)"/><ellipse cx="451.0" cy="130.0" rx="3.0" ry="2.0" transform="rotate(-30 451.0 130.0)"/><ellipse cx="444.0" cy="137.0" rx="2.5" ry="2.0" transform="rotate(-30 444.0 137.0)"/><ellipse cx="437.0" cy="142.0" rx="2.5" ry="1.5" transform="rotate(-30 437.0 142.0)"/><ellipse cx="430.0" cy="149.0" rx="2.0" ry="1.5" transform="rotate(-30 430.0 149.0)"/><ellipse cx="424.0" cy="155.0" rx="2.0" ry="1.5" transform="rotate(-30 424.0 155.0)"/><ellipse cx="417.0" cy="161.0" rx="2.0" ry="1.5"/><ellipse cx="411.0" cy="168.0" rx="2.5" ry="2.0"/><ellipse cx="404.0" cy="173.0" rx="1.5" ry="1.2"/><ellipse cx="395.0" cy="174.0" rx="1.5" ry="1.0"/><ellipse cx="384.0" cy="176.0" rx="1.5" ry="1.0"/><ellipse cx="376.0" cy="179.0" rx="1.5" ry="1.2"/><ellipse cx="343.0" cy="192.0" rx="2.0" ry="1.5"/><ellipse cx="335.0" cy="193.0" rx="1.5" ry="1.2"/><ellipse cx="326.0" cy="196.0" rx="1.5" ry="1.0"/><ellipse cx="315.0" cy="199.0" rx="1.5" ry="1.0"/><ellipse cx="400.0" cy="40.0" rx="1.0" ry="1.0"/><ellipse cx="403.0" cy="48.0" rx="1.0" ry="0.8"/><ellipse cx="408.0" cy="56.0" rx="1.0" ry="1.0"/><ellipse cx="451.0" cy="46.0" rx="2.0" ry="1.0" transform="rotate(-20 451.0 46.0)"/><ellipse cx="248.5" cy="402.5" rx="1.5" ry="1.0"/><ellipse cx="205.0" cy="393.5" rx="1.5" ry="2.5"/><ellipse cx="190.0" cy="385.0" rx="1.5" ry="2.0"/><ellipse cx="199.0" cy="391.0" rx="1.5" ry="1.0"/><ellipse cx="214.0" cy="402.0" rx="2.0" ry="2.0"/><ellipse cx="216.0" cy="423.0" rx="2.0" ry="1.2"/><ellipse cx="286.0" cy="346.0" rx="1.5" ry="3.0"/><ellipse cx="289.0" cy="353.0" rx="1.0" ry="1.5"/><ellipse cx="176.0" cy="365.0" rx="1.5" ry="2.0"/><ellipse cx="181.0" cy="372.0" rx="1.5" ry="2.0"/><ellipse cx="147.0" cy="347.0" rx="1.0" ry="3.0"/><ellipse cx="144.0" cy="353.0" rx="1.5" ry="1.0"/><ellipse cx="200.0" cy="524.0" rx="1.5" ry="1.5"/><ellipse cx="197.0" cy="521.0" rx="1.0" ry="1.0"/><ellipse cx="190.0" cy="496.0" rx="0.8" ry="0.8"/><ellipse cx="477.0" cy="318.0" rx="1.5" ry="1.5"/><ellipse cx="472.0" cy="316.0" rx="1.0" ry="1.0"/><ellipse cx="466.0" cy="365.0" rx="2.0" ry="2.0"/><ellipse cx="540.0" cy="331.0" rx="1.0" ry="1.0"/><ellipse cx="511.0" cy="322.0" rx="1.0" ry="1.0"/><ellipse cx="562.5" cy="396.0" rx="1.5" ry="2.0"/><ellipse cx="566.0" cy="392.0" rx="1.5" ry="1.5"/><ellipse cx="558.0" cy="401.0" rx="1.0" ry="1.5"/><ellipse cx="561.0" cy="383.0" rx="1.0" ry="1.5"/><ellipse cx="565.0" cy="437.0" rx="1.0" ry="1.0"/><ellipse cx="566.5" cy="447.5" rx="1.5" ry="1.5"/><ellipse cx="516.0" cy="362.0" rx="1.0" ry="1.0"/><ellipse cx="519.0" cy="370.0" rx="1.0" ry="1.0"/><ellipse cx="538.0" cy="372.0" rx="1.0" ry="1.5"/><ellipse cx="528.0" cy="379.0" rx="1.0" ry="1.0"/><ellipse cx="541.0" cy="351.0" rx="1.5" ry="1.0"/><ellipse cx="545.0" cy="354.0" rx="1.0" ry="1.0"/><ellipse cx="427.0" cy="503.0" rx="2.5" ry="1.8"/><ellipse cx="424.0" cy="512.0" rx="3.0" ry="2.0"/><ellipse cx="430.0" cy="520.0" rx="1.5" ry="1.5"/><ellipse cx="434.0" cy="490.0" rx="2.0" ry="1.2"/><ellipse cx="440.0" cy="484.0" rx="1.5" ry="1.0"/><ellipse cx="436.0" cy="536.0" rx="1.5" ry="1.5"/><ellipse cx="320.0" cy="528.0" rx="1.5" ry="4.0"/><ellipse cx="385.0" cy="490.0" rx="2.0" ry="2.0"/><ellipse cx="559.0" cy="524.0" rx="1.0" ry="1.5"/><ellipse cx="559.0" cy="530.0" rx="1.0" ry="1.5"/><ellipse cx="559.0" cy="535.0" rx="0.8" ry="0.8"/><ellipse cx="588.0" cy="490.0" rx="1.0" ry="0.8"/><ellipse cx="576.0" cy="548.0" rx="0.8" ry="0.8"/><ellipse cx="572.0" cy="554.0" rx="0.8" ry="0.8"/><ellipse cx="593.0" cy="556.0" rx="1.0" ry="2.0"/><ellipse cx="598.0" cy="540.0" rx="1.2" ry="2.0"/><ellipse cx="554.0" cy="543.0" rx="2.5" ry="1.5"/><ellipse cx="548.0" cy="541.0" rx="1.5" ry="1.0"/></g><g fill="#d8d8d8" shape-rendering="crispEdges"><ellipse cx="602.5" cy="104.0" rx="1.5" ry="0.8" transform="rotate(-50 602.5 104.0)"/><ellipse cx="620.0" cy="82.0" rx="0.8" ry="1.2"/><ellipse cx="532.5" cy="145.5" rx="1.0" ry="0.8"/><ellipse cx="469.0" cy="364.0" rx="2.0" ry="1.5"/><ellipse cx="501.0" cy="458.0" rx="1.0" ry="0.8"/><ellipse cx="470.0" cy="482.5" rx="1.5" ry="0.8"/><ellipse cx="487.0" cy="468.5" rx="1.2" ry="0.6"/><ellipse cx="198.0" cy="551.0" rx="1.5" ry="1.0"/><ellipse cx="206.0" cy="557.0" rx="1.2" ry="1.2"/></g>
</svg>
<g shape-rendering="crispEdges" fill="#000"><rect x="111" y="36" width="528" height="2"/><rect x="111" y="570" width="528" height="2"/><rect x="111" y="36" width="2" height="536"/><rect x="637" y="36" width="2" height="536"/><rect x="130" y="38" width="1" height="5"/><rect x="130" y="565" width="1" height="5"/><rect x="164" y="38" width="1" height="5"/><rect x="164" y="565" width="1" height="5"/><rect x="198" y="38" width="1" height="5"/><rect x="198" y="565" width="1" height="5"/><rect x="231" y="38" width="1" height="5"/><rect x="231" y="565" width="1" height="5"/><rect x="265" y="38" width="1" height="5"/><rect x="265" y="565" width="1" height="5"/><rect x="299" y="38" width="1" height="5"/><rect x="299" y="565" width="1" height="5"/><rect x="333" y="38" width="1" height="5"/><rect x="333" y="565" width="1" height="5"/><rect x="367" y="38" width="1" height="5"/><rect x="367" y="565" width="1" height="5"/><rect x="400" y="38" width="1" height="5"/><rect x="400" y="565" width="1" height="5"/><rect x="434" y="38" width="1" height="5"/><rect x="434" y="565" width="1" height="5"/><rect x="468" y="38" width="1" height="5"/><rect x="468" y="565" width="1" height="5"/><rect x="502" y="38" width="1" height="5"/><rect x="502" y="565" width="1" height="5"/><rect x="536" y="38" width="1" height="5"/><rect x="536" y="565" width="1" height="5"/><rect x="569" y="38" width="1" height="5"/><rect x="569" y="565" width="1" height="5"/><rect x="603" y="38" width="1" height="5"/><rect x="603" y="565" width="1" height="5"/><rect x="113" y="77" width="5" height="1"/><rect x="632" y="77" width="5" height="1"/><rect x="113" y="115" width="5" height="1"/><rect x="632" y="115" width="5" height="1"/><rect x="113" y="152" width="5" height="1"/><rect x="632" y="152" width="5" height="1"/><rect x="113" y="189" width="5" height="1"/><rect x="632" y="189" width="5" height="1"/><rect x="113" y="261" width="5" height="1"/><rect x="632" y="261" width="5" height="1"/><rect x="113" y="296" width="5" height="1"/><rect x="632" y="296" width="5" height="1"/><rect x="113" y="332" width="5" height="1"/><rect x="632" y="332" width="5" height="1"/><rect x="113" y="366" width="5" height="1"/><rect x="632" y="366" width="5" height="1"/><rect x="113" y="434" width="5" height="1"/><rect x="632" y="434" width="5" height="1"/><rect x="113" y="468" width="5" height="1"/><rect x="632" y="468" width="5" height="1"/><rect x="113" y="502" width="5" height="1"/><rect x="632" y="502" width="5" height="1"/><rect x="113" y="536" width="5" height="1"/><rect x="632" y="536" width="5" height="1"/></g>
<text x="248.3" y="19.6" font-size="13.8px" textLength="255" lengthAdjust="spacingAndGlyphs">Significant Wave Height with Wave Direction</text><text class="it" x="283.8" y="31.6" font-size="12px" textLength="183.4" lengthAdjust="spacingAndGlyphs">Valid For Jan-24-2014 06:00 GMT</text><text class="it" x="133.6" y="588" text-anchor="middle" font-size="11px">100 E</text><text class="it" x="217.5" y="588" text-anchor="middle" font-size="11px">105 E</text><text class="it" x="302.0" y="588" text-anchor="middle" font-size="11px">110 E</text><text class="it" x="386.5" y="588" text-anchor="middle" font-size="11px">115 E</text><text class="it" x="471.0" y="588" text-anchor="middle" font-size="11px">120 E</text><text class="it" x="555.6" y="588" text-anchor="middle" font-size="11px">125 E</text><text class="it" x="640.8" y="588" text-anchor="middle" font-size="11px">130 E</text><text class="it" x="645" y="41.5" font-size="11px">30 N</text><text class="it" x="645" y="137.4" font-size="11px">25 N</text><text class="it" x="645" y="229.0" font-size="11px">20 N</text><text class="it" x="645" y="318.0" font-size="11px">15 N</text><text class="it" x="645" y="404.4" font-size="11px">10 N</text><text class="it" x="645" y="489.0" font-size="11px">5 N</text><text class="it" x="645" y="574" font-size="11px">0</text><text x="113.3" y="601.5" font-size="11px" textLength="90.2" lengthAdjust="spacing">oceanweather inc.</text><text class="it" x="638" y="599" text-anchor="end" font-size="8px" textLength="115.5" lengthAdjust="spacing" stroke="#000060" stroke-width="0.25">Plotted at Jan 23, 2014 22:01 GMT</text><text x="374.7" y="614" text-anchor="middle" font-size="9.5px">Significant Wave Height (Meters)</text><text x="375" y="661.6" text-anchor="middle" font-size="9.5px">Significant Wave Height (Feet)</text><text x="256.3" y="625.6" text-anchor="middle" font-size="9.5px">0</text><text x="276.4" y="625.6" text-anchor="middle" font-size="9.5px">1</text><text x="296.4" y="625.6" text-anchor="middle" font-size="9.5px">2</text><text x="316.5" y="625.6" text-anchor="middle" font-size="9.5px">3</text><text x="336.5" y="625.6" text-anchor="middle" font-size="9.5px">4</text><text x="356.6" y="625.6" text-anchor="middle" font-size="9.5px">5</text><text x="376.6" y="625.6" text-anchor="middle" font-size="9.5px">6</text><text x="396.6" y="625.6" text-anchor="middle" font-size="9.5px">7</text><text x="416.7" y="625.6" text-anchor="middle" font-size="9.5px">8</text><text x="436.8" y="625.6" text-anchor="middle" font-size="9.5px">9</text><text x="456.8" y="625.6" text-anchor="middle" font-size="9.5px">10</text><text x="476.9" y="625.6" text-anchor="middle" font-size="9.5px">11</text><text x="496.9" y="625.6" text-anchor="middle" font-size="9.5px">12</text><text x="257.0" y="649.7" text-anchor="middle" font-size="9.5px">0</text><text x="287.0" y="649.7" text-anchor="middle" font-size="9.5px">5</text><text x="317.0" y="649.7" text-anchor="middle" font-size="9.5px">10</text><text x="347.0" y="649.7" text-anchor="middle" font-size="9.5px">15</text><text x="377.0" y="649.7" text-anchor="middle" font-size="9.5px">20</text><text x="407.0" y="649.7" text-anchor="middle" font-size="9.5px">25</text><text x="437.0" y="649.7" text-anchor="middle" font-size="9.5px">30</text><text x="467.0" y="649.7" text-anchor="middle" font-size="9.5px">35</text><text x="497.0" y="649.7" text-anchor="middle" font-size="9.5px">40</text>
<g shape-rendering="crispEdges"><rect x="255" y="629" width="2" height="13" fill="#000"/><rect x="257" y="629" width="1" height="13" fill="#0005ff"/><rect x="258" y="629" width="1" height="13" fill="#0005ff"/><rect x="259" y="629" width="1" height="13" fill="#0010ff"/><rect x="260" y="629" width="1" height="13" fill="#0010ff"/><rect x="261" y="629" width="1" height="13" fill="#001bff"/><rect x="262" y="629" width="1" height="13" fill="#001bff"/><rect x="263" y="629" width="1" height="13" fill="#001bff"/><rect x="264" y="629" width="1" height="13" fill="#0025ff"/><rect x="265" y="629" width="1" height="13" fill="#0025ff"/><rect x="266" y="629" width="1" height="13" fill="#0030ff"/><rect x="267" y="629" width="1" height="13" fill="#0030ff"/><rect x="268" y="629" width="1" height="13" fill="#0030ff"/><rect x="269" y="629" width="1" height="13" fill="#003aff"/><rect x="270" y="629" width="1" height="13" fill="#003aff"/><rect x="271" y="629" width="1" height="13" fill="#0045ff"/><rect x="272" y="629" width="1" height="13" fill="#0045ff"/><rect x="273" y="629" width="1" height="13" fill="#0045ff"/><rect x="274" y="629" width="1" height="13" fill="#0050ff"/><rect x="275" y="629" width="1" height="13" fill="#0050ff"/><rect x="276" y="629" width="1" height="13" fill="#005aff"/><rect x="277" y="629" width="1" height="13" fill="#005aff"/><rect x="278" y="629" width="1" height="13" fill="#005aff"/><rect x="279" y="629" width="1" height="13" fill="#0065ff"/><rect x="280" y="629" width="1" height="13" fill="#0065ff"/><rect x="281" y="629" width="1" height="13" fill="#0070ff"/><rect x="282" y="629" width="1" height="13" fill="#0070ff"/><rect x="283" y="629" width="1" height="13" fill="#0070ff"/><rect x="284" y="629" width="1" height="13" fill="#007aff"/><rect x="285" y="629" width="1" height="13" fill="#007aff"/><rect x="286" y="629" width="1" height="13" fill="#0085ff"/><rect x="287" y="629" width="1" height="13" fill="#0085ff"/><rect x="288" y="629" width="1" height="13" fill="#0085ff"/><rect x="289" y="629" width="1" height="13" fill="#008fff"/><rect x="290" y="629" width="1" height="13" fill="#008fff"/><rect x="291" y="629" width="1" height="13" fill="#009aff"/><rect x="292" y="629" width="1" height="13" fill="#009aff"/><rect x="293" y="629" width="1" height="13" fill="#009aff"/><rect x="294" y="629" width="1" height="13" fill="#00a5ff"/><rect x="295" y="629" width="1" height="13" fill="#00a5ff"/><rect x="296" y="629" width="1" height="13" fill="#00afff"/><rect x="297" y="629" width="1" height="13" fill="#00afff"/><rect x="298" y="629" width="1" height="13" fill="#00afff"/><rect x="299" y="629" width="1" height="13" fill="#00baff"/><rect x="300" y="629" width="1" height="13" fill="#00baff"/><rect x="301" y="629" width="1" height="13" fill="#00c5ff"/><rect x="302" y="629" width="1" height="13" fill="#00c5ff"/><rect x="303" y="629" width="1" height="13" fill="#00c5ff"/><rect x="304" y="629" width="1" height="13" fill="#00cfff"/><rect x="305" y="629" width="1" height="13" fill="#00cfff"/><rect x="306" y="629" width="1" height="13" fill="#00daff"/><rect x="307" y="629" width="1" height="13" fill="#00daff"/><rect x="308" y="629" width="1" height="13" fill="#00daff"/><rect x="309" y="629" width="1" height="13" fill="#00e4ff"/><rect x="310" y="629" width="1" height="13" fill="#00e4ff"/><rect x="311" y="629" width="1" height="13" fill="#00efff"/><rect x="312" y="629" width="1" height="13" fill="#00efff"/><rect x="313" y="629" width="1" height="13" fill="#00efff"/><rect x="314" y="629" width="1" height="13" fill="#00faff"/><rect x="315" y="629" width="1" height="13" fill="#00faff"/><rect x="316" y="629" width="1" height="13" fill="#00fffa"/><rect x="317" y="629" width="1" height="13" fill="#00fffa"/><rect x="318" y="629" width="1" height="13" fill="#00fffa"/><rect x="319" y="629" width="1" height="13" fill="#00ffef"/><rect x="320" y="629" width="1" height="13" fill="#00ffef"/><rect x="321" y="629" width="1" height="13" fill="#00ffe4"/><rect x="322" y="629" width="1" height="13" fill="#00ffe4"/><rect x="323" y="629" width="1" height="13" fill="#00ffe4"/><rect x="324" y="629" width="1" height="13" fill="#00ffda"/><rect x="325" y="629" width="1" height="13" fill="#00ffda"/><rect x="326" y="629" width="1" height="13" fill="#00ffcf"/><rect x="327" y="629" width="1" height="13" fill="#00ffcf"/><rect x="328" y="629" width="1" height="13" fill="#00ffcf"/><rect x="329" y="629" width="1" height="13" fill="#00ffc5"/><rect x="330" y="629" width="1" height="13" fill="#00ffc5"/><rect x="331" y="629" width="1" height="13" fill="#00ffba"/><rect x="332" y="629" width="1" height="13" fill="#00ffba"/><rect x="333" y="629" width="1" height="13" fill="#00ffba"/><rect x="334" y="629" width="1" height="13" fill="#00ffaf"/><rect x="335" y="629" width="1" height="13" fill="#00ffaf"/><rect x="336" y="629" width="1" height="13" fill="#00ffa5"/><rect x="337" y="629" width="1" height="13" fill="#00ffa5"/><rect x="338" y="629" width="1" height="13" fill="#00ffa5"/><rect x="339" y="629" width="1" height="13" fill="#00ff9a"/><rect x="340" y="629" width="1" height="13" fill="#00ff9a"/><rect x="341" y="629" width="1" height="13" fill="#00ff8f"/><rect x="342" y="629" width="1" height="13" fill="#00ff8f"/><rect x="343" y="629" width="1" height="13" fill="#00ff8f"/><rect x="344" y="629" width="1" height="13" fill="#00ff85"/><rect x="345" y="629" width="1" height="13" fill="#00ff85"/><rect x="346" y="629" width="1" height="13" fill="#00ff7a"/><rect x="347" y="629" width="1" height="13" fill="#00ff7a"/><rect x="348" y="629" width="1" height="13" fill="#00ff7a"/><rect x="349" y="629" width="1" height="13" fill="#00ff70"/><rect x="350" y="629" width="1" height="13" fill="#00ff70"/><rect x="351" y="629" width="1" height="13" fill="#00ff65"/><rect x="352" y="629" width="1" height="13" fill="#00ff65"/><rect x="353" y="629" width="1" height="13" fill="#00ff65"/><rect x="354" y="629" width="1" height="13" fill="#00ff5a"/><rect x="355" y="629" width="1" height="13" fill="#00ff5a"/><rect x="356" y="629" width="1" height="13" fill="#00ff50"/><rect x="357" y="629" width="1" height="13" fill="#00ff50"/><rect x="358" y="629" width="1" height="13" fill="#00ff50"/><rect x="359" y="629" width="1" height="13" fill="#00ff45"/><rect x="360" y="629" width="1" height="13" fill="#00ff45"/><rect x="361" y="629" width="1" height="13" fill="#00ff3a"/><rect x="362" y="629" width="1" height="13" fill="#00ff3a"/><rect x="363" y="629" width="1" height="13" fill="#00ff3a"/><rect x="364" y="629" width="1" height="13" fill="#00ff30"/><rect x="365" y="629" width="1" height="13" fill="#00ff30"/><rect x="366" y="629" width="1" height="13" fill="#00ff25"/><rect x="367" y="629" width="1" height="13" fill="#00ff25"/><rect x="368" y="629" width="1" height="13" fill="#00ff25"/><rect x="369" y="629" width="1" height="13" fill="#00ff1b"/><rect x="370" y="629" width="1" height="13" fill="#00ff1b"/><rect x="371" y="629" width="1" height="13" fill="#00ff10"/><rect x="372" y="629" width="1" height="13" fill="#00ff10"/><rect x="373" y="629" width="1" height="13" fill="#00ff10"/><rect x="374" y="629" width="1" height="13" fill="#00ff05"/><rect x="375" y="629" width="1" height="13" fill="#00ff05"/><rect x="376" y="629" width="1" height="13" fill="#05ff00"/><rect x="377" y="629" width="1" height="13" fill="#05ff00"/><rect x="378" y="629" width="1" height="13" fill="#05ff00"/><rect x="379" y="629" width="1" height="13" fill="#10ff00"/><rect x="380" y="629" width="1" height="13" fill="#10ff00"/><rect x="381" y="629" width="1" height="13" fill="#1bff00"/><rect x="382" y="629" width="1" height="13" fill="#1bff00"/><rect x="383" y="629" width="1" height="13" fill="#1bff00"/><rect x="384" y="629" width="1" height="13" fill="#25ff00"/><rect x="385" y="629" width="1" height="13" fill="#25ff00"/><rect x="386" y="629" width="1" height="13" fill="#30ff00"/><rect x="387" y="629" width="1" height="13" fill="#30ff00"/><rect x="388" y="629" width="1" height="13" fill="#30ff00"/><rect x="389" y="629" width="1" height="13" fill="#3aff00"/><rect x="390" y="629" width="1" height="13" fill="#3aff00"/><rect x="391" y="629" width="1" height="13" fill="#45ff00"/><rect x="392" y="629" width="1" height="13" fill="#45ff00"/><rect x="393" y="629" width="1" height="13" fill="#45ff00"/><rect x="394" y="629" width="1" height="13" fill="#50ff00"/><rect x="395" y="629" width="1" height="13" fill="#50ff00"/><rect x="396" y="629" width="1" height="13" fill="#5aff00"/><rect x="397" y="629" width="1" height="13" fill="#5aff00"/><rect x="398" y="629" width="1" height="13" fill="#5aff00"/><rect x="399" y="629" width="1" height="13" fill="#65ff00"/><rect x="400" y="629" width="1" height="13" fill="#65ff00"/><rect x="401" y="629" width="1" height="13" fill="#70ff00"/><rect x="402" y="629" width="1" height="13" fill="#70ff00"/><rect x="403" y="629" width="1" height="13" fill="#70ff00"/><rect x="404" y="629" width="1" height="13" fill="#7aff00"/><rect x="405" y="629" width="1" height="13" fill="#7aff00"/><rect x="406" y="629" width="1" height="13" fill="#85ff00"/><rect x="407" y="629" width="1" height="13" fill="#85ff00"/><rect x="408" y="629" width="1" height="13" fill="#85ff00"/><rect x="409" y="629" width="1" height="13" fill="#8fff00"/><rect x="410" y="629" width="1" height="13" fill="#8fff00"/><rect x="411" y="629" width="1" height="13" fill="#9aff00"/><rect x="412" y="629" width="1" height="13" fill="#9aff00"/><rect x="413" y="629" width="1" height="13" fill="#9aff00"/><rect x="414" y="629" width="1" height="13" fill="#a5ff00"/><rect x="415" y="629" width="1" height="13" fill="#a5ff00"/><rect x="416" y="629" width="1" height="13" fill="#afff00"/><rect x="417" y="629" width="1" height="13" fill="#afff00"/><rect x="418" y="629" width="1" height="13" fill="#afff00"/><rect x="419" y="629" width="1" height="13" fill="#baff00"/><rect x="420" y="629" width="1" height="13" fill="#baff00"/><rect x="421" y="629" width="1" height="13" fill="#c5ff00"/><rect x="422" y="629" width="1" height="13" fill="#c5ff00"/><rect x="423" y="629" width="1" height="13" fill="#c5ff00"/><rect x="424" y="629" width="1" height="13" fill="#cfff00"/><rect x="425" y="629" width="1" height="13" fill="#cfff00"/><rect x="426" y="629" width="1" height="13" fill="#daff00"/><rect x="427" y="629" width="1" height="13" fill="#daff00"/><rect x="428" y="629" width="1" height="13" fill="#daff00"/><rect x="429" y="629" width="1" height="13" fill="#e4ff00"/><rect x="430" y="629" width="1" height="13" fill="#e4ff00"/><rect x="431" y="629" width="1" height="13" fill="#efff00"/><rect x="432" y="629" width="1" height="13" fill="#efff00"/><rect x="433" y="629" width="1" height="13" fill="#efff00"/><rect x="434" y="629" width="1" height="13" fill="#faff00"/><rect x="435" y="629" width="1" height="13" fill="#faff00"/><rect x="436" y="629" width="1" height="13" fill="#fffa00"/><rect x="437" y="629" width="1" height="13" fill="#fffa00"/><rect x="438" y="629" width="1" height="13" fill="#fffa00"/><rect x="439" y="629" width="1" height="13" fill="#ffef00"/><rect x="440" y="629" width="1" height="13" fill="#ffef00"/><rect x="441" y="629" width="1" height="13" fill="#ffe400"/><rect x="442" y="629" width="1" height="13" fill="#ffe400"/><rect x="443" y="629" width="1" height="13" fill="#ffe400"/><rect x="444" y="629" width="1" height="13" fill="#ffda00"/><rect x="445" y="629" width="1" height="13" fill="#ffda00"/><rect x="446" y="629" width="1" height="13" fill="#ffcf00"/><rect x="447" y="629" width="1" height="13" fill="#ffcf00"/><rect x="448" y="629" width="1" height="13" fill="#ffcf00"/><rect x="449" y="629" width="1" height="13" fill="#ffc500"/><rect x="450" y="629" width="1" height="13" fill="#ffc500"/><rect x="451" y="629" width="1" height="13" fill="#ffba00"/><rect x="452" y="629" width="1" height="13" fill="#ffba00"/><rect x="453" y="629" width="1" height="13" fill="#ffba00"/><rect x="454" y="629" width="1" height="13" fill="#ffaf00"/><rect x="455" y="629" width="1" height="13" fill="#ffaf00"/><rect x="456" y="629" width="1" height="13" fill="#ffa500"/><rect x="457" y="629" width="1" height="13" fill="#ffa500"/><rect x="458" y="629" width="1" height="13" fill="#ffa500"/><rect x="459" y="629" width="1" height="13" fill="#ff9a00"/><rect x="460" y="629" width="1" height="13" fill="#ff9a00"/><rect x="461" y="629" width="1" height="13" fill="#ff8f00"/><rect x="462" y="629" width="1" height="13" fill="#ff8f00"/><rect x="463" y="629" width="1" height="13" fill="#ff8f00"/><rect x="464" y="629" width="1" height="13" fill="#ff8500"/><rect x="465" y="629" width="1" height="13" fill="#ff8500"/><rect x="466" y="629" width="1" height="13" fill="#ff7a00"/><rect x="467" y="629" width="1" height="13" fill="#ff7a00"/><rect x="468" y="629" width="1" height="13" fill="#ff7a00"/><rect x="469" y="629" width="1" height="13" fill="#ff7000"/><rect x="470" y="629" width="1" height="13" fill="#ff7000"/><rect x="471" y="629" width="1" height="13" fill="#ff6500"/><rect x="472" y="629" width="1" height="13" fill="#ff6500"/><rect x="473" y="629" width="1" height="13" fill="#ff6500"/><rect x="474" y="629" width="1" height="13" fill="#ff5a00"/><rect x="475" y="629" width="1" height="13" fill="#ff5a00"/><rect x="476" y="629" width="1" height="13" fill="#ff5000"/><rect x="477" y="629" width="1" height="13" fill="#ff5000"/><rect x="478" y="629" width="1" height="13" fill="#ff5000"/><rect x="479" y="629" width="1" height="13" fill="#ff4500"/><rect x="480" y="629" width="1" height="13" fill="#ff4500"/><rect x="481" y="629" width="1" height="13" fill="#ff3a00"/><rect x="482" y="629" width="1" height="13" fill="#ff3a00"/><rect x="483" y="629" width="1" height="13" fill="#ff3a00"/><rect x="484" y="629" width="1" height="13" fill="#ff3000"/><rect x="485" y="629" width="1" height="13" fill="#ff3000"/><rect x="486" y="629" width="1" height="13" fill="#ff2500"/><rect x="487" y="629" width="1" height="13" fill="#ff2500"/><rect x="488" y="629" width="1" height="13" fill="#ff2500"/><rect x="489" y="629" width="1" height="13" fill="#ff1b00"/><rect x="490" y="629" width="1" height="13" fill="#ff1b00"/><rect x="491" y="629" width="1" height="13" fill="#ff1000"/><rect x="492" y="629" width="1" height="13" fill="#ff1000"/><rect x="493" y="629" width="1" height="13" fill="#ff1000"/><rect x="494" y="629" width="1" height="13" fill="#ff0500"/><rect x="495" y="629" width="1" height="13" fill="#ff0500"/><rect x="496" y="629" width="1" height="13" fill="#ff0000"/></g>
</svg>
</body></html>
